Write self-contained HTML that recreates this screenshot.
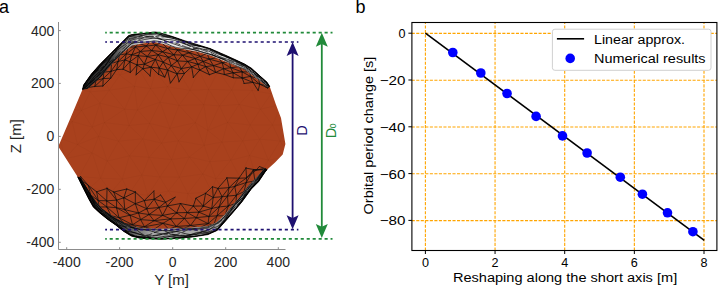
<!DOCTYPE html>
<html><head><meta charset="utf-8"><style>
html,body{margin:0;padding:0;background:#fff;width:718px;height:289px;overflow:hidden}
svg{display:block;font-family:"Liberation Sans",sans-serif}
</style></head><body>
<svg width="718" height="289" viewBox="0 0 718 289">
<rect width="718" height="289" fill="#fff"/>

<defs>
<clipPath id="ctop"><polygon points="82.5,89.5 83.6,85.0 91.5,73.8 100.5,63.7 111.7,52.5 123.0,41.2 128.6,35.6 131.9,34.6 142.1,33.5 155.4,32.0 160.3,32.9 172.4,36.5 184.5,40.7 196.6,44.4 210.0,48.5 227.3,56.0 244.6,64.0 251.5,68.3 260.1,76.1 267.0,82.2 269.7,86.5 275.0,100.0 80.0,100.0"/></clipPath>
<clipPath id="cbot"><polygon points="77.6,176.7 83.2,188.0 88.9,199.2 93.3,207.1 100.0,213.2 107.8,219.5 115.6,224.9 123.4,231.2 131.2,236.0 139.0,238.0 146.8,238.8 161.2,239.2 176.7,238.5 192.3,237.0 207.9,234.6 217.2,230.4 224.7,222.0 234.4,210.8 241.6,202.3 251.3,189.0 258.5,181.8 265.8,170.9 267.0,169.7 275.0,150.0 70.0,150.0"/></clipPath>
</defs>
<polygon points="58.3,146.4 70.5,118.0 82.5,89.5 83.6,85.0 91.5,73.8 100.5,63.7 111.7,52.5 123.0,41.2 128.6,35.6 131.9,34.6 142.1,33.5 155.4,32.0 160.3,32.9 172.4,36.5 184.5,40.7 196.6,44.4 210.0,48.5 227.3,56.0 244.6,64.0 251.5,68.3 260.1,76.1 267.0,82.2 269.7,86.5 275.8,104.2 281.0,118.0 285.4,144.0 282.7,154.4 275.0,162.4 267.0,169.7 265.8,170.9 258.5,181.8 251.3,189.0 241.6,202.3 234.4,210.8 224.7,222.0 217.2,230.4 207.9,234.6 192.3,237.0 176.7,238.5 161.2,239.2 146.8,238.8 139.0,238.0 131.2,236.0 123.4,231.2 115.6,224.9 107.8,219.5 100.0,213.2 93.3,207.1 88.9,199.2 83.2,188.0 77.6,176.7" fill="#a9411d"/>
<clipPath id="cbrown"><polygon points="58.3,146.4 70.5,118.0 82.5,89.5 83.6,85.0 91.5,73.8 100.5,63.7 111.7,52.5 123.0,41.2 128.6,35.6 131.9,34.6 142.1,33.5 155.4,32.0 160.3,32.9 172.4,36.5 184.5,40.7 196.6,44.4 210.0,48.5 227.3,56.0 244.6,64.0 251.5,68.3 260.1,76.1 267.0,82.2 269.7,86.5 275.8,104.2 281.0,118.0 285.4,144.0 282.7,154.4 275.0,162.4 267.0,169.7 265.8,170.9 258.5,181.8 251.3,189.0 241.6,202.3 234.4,210.8 224.7,222.0 217.2,230.4 207.9,234.6 192.3,237.0 176.7,238.5 161.2,239.2 146.8,238.8 139.0,238.0 131.2,236.0 123.4,231.2 115.6,224.9 107.8,219.5 100.0,213.2 93.3,207.1 88.9,199.2 83.2,188.0 77.6,176.7"/></clipPath>
<g clip-path="url(#cbrown)"><path d="M299.9 209.7L308.4 226.4M271.2 93.7L291.5 89.6M228.7 226.9L220.7 247.3M76.9 37.4L92.0 56.7M155.6 71.5L167.5 86.8M77.5 144.7L98.7 136.2M109.2 90.3L124.7 109.2M153.7 207.4L184.8 213.0M242.7 140.9L249.6 155.5M209.8 17.2L228.5 18.8M171.7 159.6L159.9 177.1M287.7 51.9L311.0 52.1M48.1 16.8L150.7 17.0M48.1 16.8L57.6 36.9M98.7 136.2L118.6 141.2M179.2 72.6L190.0 90.3M260.5 109.2L272.5 124.9M179.3 177.2L202.8 174.0M70.1 230.7L61.0 244.7M207.8 130.4L222.1 142.0M257.9 244.3L284.0 244.3M269.9 191.5L259.8 208.8M124.7 109.2L137.5 109.9M93.5 246.0L89.9 260.8M150.5 54.6L155.6 71.5M202.8 174.0L215.8 178.7M281.5 104.4L287.9 125.1M57.6 36.9L76.9 37.4M306.1 158.8L319.6 175.2M137.5 109.9L160.1 102.2M217.4 37.4L232.1 51.5M222.1 142.0L242.7 140.9M111.3 192.4L97.5 207.2M252.1 90.4L260.5 109.2M299.9 209.7L322.1 207.3M76.9 37.4L99.9 36.6M155.6 71.5L179.2 72.6M136.8 211.8L129.4 226.9M190.5 15.8L195.2 38.0M242.7 140.9L259.8 139.2M77.5 144.7L64.8 158.8M110.8 259.9L133.9 261.6M179.2 72.6L198.9 70.8M260.5 109.2L281.5 104.4M319.6 175.2L322.1 207.3M238.8 244.2L232.2 264.7M287.7 51.9L304.2 72.8M47.3 196.2L69.9 193.4M179.3 177.2L168.3 191.0M281.5 104.4L297.2 106.9M319.2 35.3L323.0 144.4M124.7 109.2L104.3 122.6M146.3 226.7L167.0 223.8M217.4 37.4L240.1 32.5M278.3 208.8L269.0 228.8M57.6 36.9L53.5 56.0M92.1 152.8L107.2 161.1M222.1 142.0L209.9 161.7M250.5 261.4L269.5 265.1M89.9 260.8L98.8 280.3M155.6 71.5L150.6 88.5M187.9 193.6L211.8 191.8M269.5 265.1L293.5 261.7M319.6 175.2L312.1 192.7M61.7 281.5L116.0 282.9M110.8 259.9L116.0 282.9M195.2 38.0L210.2 52.6M260.5 109.2L250.1 125.1M129.4 226.9L141.7 245.7M304.2 72.8L311.7 87.1M108.7 18.1L150.7 17.0M146.3 226.7L160.0 241.7M208.3 225.6L201.2 245.6M140.7 280.8L157.2 279.7M190.5 15.8L269.8 18.6M250.5 261.4L261.3 280.3M149.1 157.3L141.9 175.1M308.9 265.5L303.1 276.9M187.9 193.6L201.3 211.6M195.2 38.0L217.4 37.4M90.1 91.8L81.5 110.3M64.8 158.8L92.1 152.8M247.4 196.1L240.2 207.6M284.8 281.8L318.4 281.8M232.2 264.7L250.5 261.4M116.0 282.9L239.2 282.8M304.2 72.8L317.7 74.1M48.1 16.8L46.0 128.6M195.2 122.7L178.3 140.8M168.3 191.0L187.9 193.6M133.2 53.7L119.9 75.2M62.3 215.5L70.1 230.7M104.3 122.6L129.1 125.5M290.2 156.4L281.8 175.6M79.2 176.6L90.2 187.5M269.0 228.8L291.3 228.7M53.5 56.0L75.8 56.2M231.7 90.0L219.4 105.9M160.0 241.7L172.3 263.7M129.1 125.5L149.7 123.4M89.9 260.8L76.9 278.9M209.9 161.7L230.8 160.1M53.5 56.0L50.0 87.8M167.7 23.8L160.5 34.7M100.7 178.2L111.3 192.4M291.3 228.7L308.4 226.4M184.8 213.0L190.5 227.7M75.8 56.2L92.0 56.7M150.6 88.5L167.5 86.8M195.2 38.0L189.6 55.2M230.8 160.1L249.6 155.5M118.6 141.2L129.4 155.9M92.7 20.3L108.7 18.1M64.8 158.8L79.2 176.6M272.3 53.8L260.2 76.5M201.3 211.6L208.3 225.6M116.0 282.9L140.7 280.8M167.5 86.8L190.0 90.3M129.4 226.9L120.8 248.5M250.1 125.1L272.5 124.9M232.2 264.7L239.2 282.8M304.2 72.8L291.5 89.6M49.6 161.4L47.3 196.2M142.9 138.8L149.1 157.3M62.3 215.5L79.5 207.8M306.1 19.4L319.2 35.3M108.7 18.1L131.8 23.9M189.6 55.2L210.2 52.6M168.3 191.0L184.8 213.0M302.8 247.1L308.9 265.5M204.2 145.4L189.3 157.0M272.5 124.9L287.9 125.1M77.1 71.2L90.1 91.8M79.2 176.6L100.7 178.2M104.3 122.6L118.6 141.2M228.5 18.8L269.8 18.6M160.0 241.7L182.1 243.7M138.8 68.9L134.5 86.4M240.0 177.6L247.4 196.1M210.2 52.6L232.1 51.5M291.5 89.6L311.7 87.1M269.0 228.8L284.0 244.3M53.5 56.0L56.9 73.4M100.7 178.2L122.2 179.1M179.0 105.4L195.2 122.7M184.8 213.0L201.3 211.6M73.8 260.8L61.7 281.5M209.9 161.7L215.8 178.7M261.3 280.3L284.8 281.8M319.2 35.3L317.7 74.1M239.1 104.4L227.6 122.5M118.6 141.2L142.9 138.8M150.6 88.5L160.1 102.2M48.1 16.8L50.0 87.8M201.3 211.6L224.3 211.8M182.8 39.0L171.5 53.8M248.3 21.3L269.8 18.6M312.1 192.7L322.1 207.3M92.7 20.3L99.9 36.6M142.9 138.8L161.6 143.1M250.1 125.1L259.8 139.2M302.8 247.1L321.8 247.1M281.1 68.2L271.2 93.7M77.1 71.2L100.0 70.9M189.6 55.2L198.9 70.8M240.0 177.6L256.8 180.0M79.2 176.6L69.9 193.4M247.1 51.6L240.4 71.0M92.2 127.1L98.7 136.2M179.0 105.4L203.8 104.7M291.5 89.6L297.2 106.9M49.6 232.3L70.1 230.7M319.2 35.3L311.0 52.1M184.8 213.0L167.0 223.8M56.9 73.4L68.5 86.9M118.6 141.2L107.2 161.1M291.0 22.0L282.3 34.5M215.8 178.7L226.4 195.7M134.5 86.4L137.5 109.9M160.1 102.2L169.9 128.4M69.4 21.0L76.9 37.4M306.1 19.4L301.8 34.7M99.9 36.6L108.5 54.5M259.8 139.2L268.3 160.1M228.5 18.8L248.3 21.3M198.9 70.8L208.7 89.4M141.7 245.7L133.9 261.6M280.0 141.0L290.2 156.4M56.9 73.4L77.1 71.2M297.2 106.9L310.6 128.4M215.8 178.7L240.0 177.6M111.8 224.5L93.5 246.0M160.1 102.2L179.0 105.4M47.3 196.2L47.6 263.4M240.1 32.5L247.1 51.6M209.5 264.2L200.7 281.5M157.2 279.7L200.7 281.5M99.9 36.6L117.5 36.4M259.8 139.2L280.0 141.0M147.7 195.2L136.8 211.8M284.0 244.3L269.5 265.1M150.7 17.0L190.5 15.8M198.9 70.8L218.3 70.7M92.2 127.1L77.5 144.7M280.0 141.0L306.7 140.8M249.0 227.7L238.8 244.2M317.7 74.1L323.0 144.4M146.3 266.8L172.3 263.7M218.3 70.7L240.4 71.0M297.2 106.9L318.3 105.1M189.3 157.0L179.3 177.2M56.9 73.4L50.0 87.8M90.2 187.5L111.3 192.4M240.1 32.5L259.4 36.7M215.8 178.7L211.8 191.8M134.5 86.4L124.7 109.2M61.0 244.7L73.8 260.8M107.2 161.1L129.4 155.9M288.5 194.3L278.3 208.8M160.1 102.2L149.7 123.4M69.4 21.0L57.6 36.9M190.5 227.7L208.3 225.6M171.5 53.8L179.2 72.6M259.4 36.7L282.3 34.5M50.0 87.8L68.5 86.9M227.6 122.5L222.1 142.0M99.9 36.6L92.0 56.7M129.4 155.9L149.1 157.3M50.0 87.8L46.0 128.6M259.8 139.2L249.6 155.5M293.5 261.7L308.9 265.5M97.5 207.2L111.8 224.5M271.2 93.7L281.5 104.4M68.5 86.9L90.1 91.8M149.7 123.4L169.9 128.4M153.7 207.4L146.3 226.7M198.9 70.8L190.0 90.3M226.4 195.7L247.4 196.1M209.8 17.2L217.4 37.4M322.1 207.3L321.8 247.1M92.0 56.7L108.5 54.5M201.2 245.6L209.5 264.2M98.7 136.2L92.1 152.8M133.9 261.6L146.3 266.8M169.9 128.4L195.2 122.7M239.2 282.8L318.4 281.8M47.3 196.2L49.6 232.3M297.2 106.9L287.9 125.1M61.0 244.7L79.9 239.2M257.9 244.3L250.5 261.4M311.0 52.1L317.7 74.1M69.9 193.4L90.2 187.5M108.5 54.5L133.2 53.7M202.8 174.0L187.9 193.6M240.1 32.5L232.1 51.5M268.3 160.1L290.2 156.4M107.2 161.1L122.2 179.1M222.1 142.0L230.8 160.1M157.2 279.7L183.2 276.0M137.5 109.9L129.1 125.5M167.0 223.8L190.5 227.7M208.7 89.4L231.7 90.0M50.0 87.8L59.2 108.5M299.9 209.7L291.3 228.7M97.5 207.2L118.5 208.8M76.9 37.4L75.8 56.2M150.7 17.0L167.7 23.8M109.2 90.3L100.0 103.1M317.7 74.1L318.3 105.1M242.7 140.9L230.8 160.1M322.1 207.3L308.4 226.4M149.7 123.4L161.6 143.1M269.8 18.6L306.1 19.4M201.2 245.6L220.7 247.3M179.2 72.6L167.5 86.8M211.8 191.8L226.4 195.7M207.8 130.4L204.2 145.4M47.3 196.2L62.3 215.5M92.0 56.7L100.0 70.9M133.9 261.6L140.7 280.8M303.1 276.9L318.4 281.8M150.5 54.6L138.8 68.9M281.5 104.4L272.5 124.9M69.9 193.4L79.5 207.8M306.1 158.8L299.2 176.2M217.4 37.4L210.2 52.6M249.6 155.5L268.3 160.1M171.5 53.8L155.6 71.5M252.1 90.4L239.1 104.4M92.1 152.8L100.7 178.2M167.0 223.8L182.1 243.7M190.5 15.8L182.8 39.0M317.7 74.1L311.7 87.1M271.2 93.7L260.5 109.2M59.2 108.5L72.2 121.6M269.5 265.1L284.8 281.8M209.8 17.2L195.2 38.0M287.7 51.9L281.1 68.2M190.0 90.3L208.7 89.4M211.8 191.8L224.3 211.8M131.8 23.9L150.7 17.0M311.0 52.1L304.2 72.8M100.0 70.9L109.2 90.3M308.4 226.4L321.8 247.1M232.1 51.5L247.1 51.6M249.6 155.5L256.8 180.0M79.5 207.8L92.7 231.0M59.2 108.5L81.5 110.3M137.4 34.1L150.5 54.6M182.1 243.7L191.3 261.6M141.9 175.1L159.9 177.1M48.1 16.8L108.7 18.1M61.7 281.5L98.8 280.3M110.8 259.9L98.8 280.3M269.8 18.6L291.0 22.0M122.2 179.1L129.3 193.4M240.2 207.6L259.8 208.8M133.9 261.6L116.0 282.9M100.0 70.9L119.9 75.2M224.3 211.8L228.7 226.9M146.3 226.7L141.7 245.7M47.6 263.4L73.8 260.8M79.5 207.8L97.5 207.2M161.6 143.1L171.7 159.6M92.1 152.8L79.2 176.6M281.8 175.6L299.2 176.2M167.0 223.8L160.0 241.7M287.9 125.1L310.6 128.4M250.5 261.4L239.2 282.8M137.4 34.1L160.5 34.7M129.1 125.5L142.9 138.8M182.1 243.7L201.2 245.6M256.8 180.0L269.9 191.5M187.9 193.6L184.8 213.0M291.3 228.7L302.8 247.1M209.8 17.2L269.8 18.6M92.7 231.0L111.8 224.5M269.5 265.1L261.3 280.3M48.1 16.8L190.5 15.8M122.2 179.1L141.9 175.1M203.8 104.7L207.8 130.4M75.8 56.2L77.1 71.2M230.8 160.1L240.0 177.6M284.8 281.8L303.1 276.9M211.8 191.8L201.3 211.6M191.3 261.6L209.5 264.2M167.5 86.8L179.0 105.4M306.7 140.8L306.1 158.8M224.3 211.8L240.2 207.6M62.3 215.5L49.6 232.3M129.3 193.4L147.7 195.2M108.7 18.1L117.5 36.4M308.4 226.4L302.8 247.1M161.6 143.1L178.3 140.8M240.4 71.0L252.1 90.4M272.5 124.9L280.0 141.0M72.2 121.6L92.2 127.1M249.6 155.5L240.0 177.6M79.5 207.8L70.1 230.7M160.0 241.7L146.3 266.8M228.7 226.9L249.0 227.7M210.2 52.6L218.3 70.7M256.8 180.0L281.8 175.6M321.8 247.1L318.4 281.8M287.9 125.1L306.7 140.8M100.7 178.2L90.2 187.5M171.7 159.6L189.3 157.0M203.8 104.7L219.4 105.9M182.1 243.7L172.3 263.7M48.1 16.8L92.7 20.3M49.6 232.3L47.6 263.4M61.7 281.5L76.9 278.9M311.7 87.1L318.3 105.1M70.1 230.7L92.7 231.0M122.2 179.1L111.3 192.4M64.8 158.8L59.2 175.0M201.3 211.6L190.5 227.7M269.9 191.5L288.5 194.3M248.3 21.3L259.4 36.7M306.7 140.8L323.0 144.4M232.2 264.7L218.3 281.8M142.9 138.8L129.4 155.9M172.3 263.7L191.3 261.6M282.3 34.5L287.7 51.9M240.4 71.0L260.2 76.5M224.3 211.8L208.3 225.6M168.3 191.0L153.7 207.4M302.8 247.1L293.5 261.7M77.1 71.2L68.5 86.9M200.7 281.5L239.2 282.8M111.3 192.4L129.3 193.4M161.6 143.1L149.1 157.3M104.3 122.6L98.7 136.2M240.0 177.6L226.4 195.7M321.8 247.1L308.9 265.5M117.5 36.4L133.2 53.7M269.0 228.8L257.9 244.3M179.0 105.4L169.9 128.4M129.1 125.5L118.6 141.2M256.8 180.0L247.4 196.1M209.9 161.7L202.8 174.0M49.6 232.3L61.0 244.7M291.3 228.7L284.0 244.3M218.3 70.7L231.7 90.0M75.8 56.2L56.9 73.4M203.8 104.7L195.2 122.7M150.6 88.5L137.5 109.9M230.8 160.1L215.8 178.7M70.1 230.7L79.9 239.2M312.1 192.7L299.9 209.7M116.0 282.9L200.7 281.5M92.7 20.3L76.9 37.4M282.3 34.5L301.8 34.7M167.5 86.8L160.1 102.2M306.7 140.8L290.2 156.4M250.1 125.1L242.7 140.9M259.4 36.7L272.3 53.8M172.3 263.7L183.2 276.0M108.7 18.1L99.9 36.6M240.4 71.0L231.7 90.0M189.6 55.2L179.2 72.6M272.5 124.9L259.8 139.2M117.5 36.4L137.4 34.1M111.3 192.4L118.5 208.8M228.5 18.8L240.1 32.5M210.2 52.6L198.9 70.8M291.5 89.6L281.5 104.4M311.7 87.1L297.2 106.9M248.3 21.3L240.1 32.5M318.3 105.1L323.0 144.4M79.9 239.2L89.9 260.8M46.0 128.6L72.2 121.6M200.7 281.5L218.3 281.8M208.3 225.6L228.7 226.9M117.5 36.4L108.5 54.5M149.1 157.3L171.7 159.6M280.0 141.0L268.3 160.1M118.5 208.8L129.4 226.9M90.1 91.8L109.2 90.3M146.3 266.8L157.2 279.7M238.8 244.2L257.9 244.3M218.3 70.7L208.7 89.4M247.4 196.1L269.9 191.5M60.0 138.0L64.8 158.8M90.2 187.5L97.5 207.2M220.7 247.3L232.2 264.7M195.2 122.7L207.8 130.4M318.3 105.1L310.6 128.4M79.9 239.2L93.5 246.0M159.9 177.1L168.3 191.0M133.2 53.7L150.5 54.6M190.5 227.7L201.2 245.6M278.3 208.8L299.9 209.7M323.0 144.4L321.8 247.1M172.3 263.7L157.2 279.7M290.2 156.4L306.1 158.8M259.4 36.7L247.1 51.6M100.0 103.1L104.3 122.6M46.0 128.6L60.0 138.0M129.4 155.9L141.9 175.1M183.2 276.0L200.7 281.5M259.8 208.8L269.0 228.8M231.7 90.0L252.1 90.4M208.3 225.6L220.7 247.3M293.5 261.7L303.1 276.9M89.9 260.8L110.8 259.9M228.5 18.8L217.4 37.4M68.5 86.9L81.5 110.3M118.5 208.8L136.8 211.8M167.7 23.8L190.5 15.8M149.1 157.3L159.9 177.1M226.4 195.7L240.2 207.6M60.0 138.0L77.5 144.7M308.9 265.5L318.4 281.8M90.1 91.8L100.0 103.1M169.9 128.4L178.3 140.8M220.7 247.3L238.8 244.2M272.3 53.8L287.7 51.9M247.4 196.1L259.8 208.8M61.0 244.7L47.6 263.4M129.4 226.9L146.3 226.7M108.5 54.5L119.9 75.2M159.9 177.1L179.3 177.2M195.2 122.7L204.2 145.4M268.3 160.1L281.8 175.6M100.0 103.1L124.7 109.2M79.9 239.2L73.8 260.8M133.2 53.7L138.8 68.9M208.7 89.4L219.4 105.9M259.8 208.8L278.3 208.8M290.2 156.4L299.2 176.2M97.5 207.2L92.7 231.0M150.7 17.0L160.5 34.7M231.7 90.0L239.1 104.4M310.6 128.4L323.0 144.4M73.8 260.8L89.9 260.8M141.9 175.1L147.7 195.2M118.5 208.8L111.8 224.5M201.2 245.6L191.3 261.6M167.7 23.8L182.8 39.0M46.0 128.6L47.6 263.4M146.3 266.8L140.7 280.8M81.5 110.3L92.2 127.1M60.0 138.0L49.6 161.4M240.2 207.6L249.0 227.7M90.2 187.5L79.5 207.8M220.7 247.3L209.5 264.2M272.3 53.8L281.1 68.2M178.3 140.8L189.3 157.0M323.0 144.4L322.1 207.3M159.9 177.1L147.7 195.2M107.2 161.1L100.7 178.2M190.5 227.7L182.1 243.7M119.9 75.2L134.5 86.4M100.0 103.1L92.2 127.1M204.2 145.4L209.9 161.7M281.8 175.6L288.5 194.3M129.4 155.9L122.2 179.1M247.1 51.6L272.3 53.8M259.8 208.8L249.0 227.7M138.8 68.9L150.6 88.5M293.5 261.7L284.8 281.8M219.4 105.9L227.6 122.5M68.5 86.9L59.2 108.5M149.7 123.4L142.9 138.8M299.2 176.2L312.1 192.7M226.4 195.7L224.3 211.8M73.8 260.8L76.9 278.9M160.5 34.7L171.5 53.8M81.5 110.3L100.0 103.1M92.0 56.7L77.1 71.2M239.1 104.4L250.1 125.1M190.0 90.3L203.8 104.7M169.9 128.4L161.6 143.1M291.0 22.0L306.1 19.4M182.8 39.0L189.6 55.2M131.8 23.9L137.4 34.1M178.3 140.8L204.2 145.4M260.2 76.5L271.2 93.7M69.9 193.4L62.3 215.5M108.5 54.5L100.0 70.9M268.3 160.1L256.8 180.0M119.9 75.2L138.8 68.9M204.2 145.4L222.1 142.0M232.1 51.5L240.4 71.0M281.1 68.2L291.5 89.6M208.7 89.4L203.8 104.7M138.8 68.9L155.6 71.5M301.8 34.7L311.0 52.1M219.4 105.9L239.1 104.4M150.7 17.0L137.4 34.1M247.1 51.6L260.2 76.5M299.2 176.2L319.6 175.2M59.2 108.5L46.0 128.6M310.6 128.4L306.7 140.8M160.5 34.7L182.8 39.0M141.9 175.1L129.3 193.4M239.1 104.4L260.5 109.2M269.8 18.6L282.3 34.5M81.5 110.3L72.2 121.6M111.8 224.5L129.4 226.9M239.2 282.8L284.8 281.8M182.8 39.0L195.2 38.0M260.2 76.5L281.1 68.2M323.0 144.4L319.6 175.2M240.2 207.6L228.7 226.9M291.0 22.0L301.8 34.7M49.6 161.4L64.8 158.8M100.0 70.9L90.1 91.8M178.3 140.8L171.7 159.6M209.5 264.2L232.2 264.7M281.1 68.2L304.2 72.8M47.6 263.4L61.7 281.5M119.9 75.2L109.2 90.3M147.7 195.2L168.3 191.0M301.8 34.7L319.2 35.3M281.8 175.6L269.9 191.5M120.8 248.5L133.9 261.6M92.2 127.1L104.3 122.6M137.4 34.1L133.2 53.7M219.4 105.9L207.8 130.4M249.0 227.7L269.0 228.8M59.2 175.0L69.9 193.4M299.2 176.2L288.5 194.3M141.7 245.7L146.3 266.8M92.7 231.0L93.5 246.0M160.5 34.7L150.5 54.6M189.3 157.0L209.9 161.7M190.0 90.3L179.0 105.4M323.0 144.4L306.1 158.8M76.9 278.9L98.8 280.3M134.5 86.4L150.6 88.5M111.8 224.5L120.8 248.5M191.3 261.6L200.7 281.5M131.8 23.9L117.5 36.4M260.2 76.5L252.1 90.4M288.5 194.3L312.1 192.7M69.4 21.0L92.7 20.3M49.6 161.4L59.2 175.0M98.8 280.3L116.0 282.9M129.3 193.4L136.8 211.8M227.6 122.5L250.1 125.1M209.5 264.2L218.3 281.8M232.1 51.5L218.3 70.7M72.2 121.6L77.5 144.7M120.8 248.5L141.7 245.7M147.7 195.2L153.7 207.4M46.0 128.6L47.3 196.2M284.0 244.3L293.5 261.7M228.7 226.9L238.8 244.2M301.8 34.7L287.7 51.9M59.2 175.0L79.2 176.6M141.7 245.7L160.0 241.7M171.7 159.6L179.3 177.2M218.3 281.8L239.2 282.8M249.0 227.7L257.9 244.3M269.8 18.6L259.4 36.7M189.3 157.0L202.8 174.0M239.2 282.8L261.3 280.3M269.9 191.5L278.3 208.8M93.5 246.0L110.8 259.9M288.5 194.3L299.9 209.7M140.7 280.8L200.7 281.5M227.6 122.5L242.7 140.9M284.0 244.3L302.8 247.1M190.5 15.8L306.1 19.4M136.8 211.8L146.3 226.7M120.8 248.5L110.8 259.9M109.2 90.3L134.5 86.4M287.9 125.1L280.0 141.0M77.5 144.7L92.1 152.8M48.1 16.8L69.4 21.0M59.2 175.0L47.3 196.2M153.7 207.4L167.0 223.8M238.8 244.2L250.5 261.4M92.7 231.0L79.9 239.2M207.8 130.4L227.6 122.5M48.1 16.8L53.5 56.0M98.7 136.2L107.2 161.1M179.3 177.2L187.9 193.6M93.5 246.0L120.8 248.5M150.5 54.6L171.5 53.8M257.9 244.3L269.5 265.1M191.3 261.6L183.2 276.0M282.3 34.5L272.3 53.8M124.7 109.2L129.1 125.5M202.8 174.0L211.8 191.8M278.3 208.8L291.3 228.7M171.5 53.8L189.6 55.2M129.3 193.4L118.5 208.8M252.1 90.4L271.2 93.7M57.6 36.9L75.8 56.2M46.0 128.6L49.6 161.4M137.5 109.9L149.7 123.4M136.8 211.8L153.7 207.4M72.2 121.6L60.0 138.0M190.5 15.8L209.8 17.2" stroke="#000" stroke-width="1" stroke-opacity="0.025" fill="none"/></g>
<g clip-path="url(#ctop)"><path d="M163.2 62.0L159.0 68.3M173.8 54.6L177.6 61.2M258.4 78.3L259.7 84.2M119.2 55.2L128.5 46.7M253.3 82.4L243.5 83.5M144.1 64.1L151.3 67.3M128.2 46.7L126.2 54.1M162.7 51.6L158.1 54.8M195.7 58.3L187.1 61.7M150.8 66.9L158.7 74.5M194.3 49.7L207.1 53.4M135.4 46.9L140.6 51.7M140.1 51.3L147.5 56.6M204.9 66.1L215.8 72.5M223.6 68.4L224.4 74.6M155.6 45.1L162.7 51.8M209.8 58.9L202.8 61.6M242.8 71.8L233.0 72.8M213.4 65.2L215.7 72.7M138.3 55.5L137.0 65.5M181.2 68.5L184.6 73.7M129.7 61.7L137.3 65.1M221.8 62.5L230.9 67.8M144.1 64.3L155.7 59.3M95.8 80.7L104.3 71.6M229.6 61.4L221.9 62.8M150.6 67.2L159.3 68.1M182.4 55.2L177.3 61.0M270.3 85.8L267.7 88.2M102.9 78.6L110.8 78.2M217.3 57.2L229.7 61.7M111.6 62.9L110.9 71.9M134.7 47.1L146.7 46.0M171.4 65.5L167.3 70.4M200.4 56.3L194.8 58.7M155.3 45.0L167.9 48.6M180.9 68.7L192.4 66.7M172.9 45.8L177.5 50.1M233.0 72.5L233.2 77.9M158.1 54.6L163.5 62.7M167.7 48.4L162.3 51.9M140.5 51.1L138.1 56.0M174.2 54.6L168.2 57.5M167.9 57.1L177.7 60.9M222.6 62.6L213.0 65.8M217.6 57.1L222.5 63.1M102.4 86.5L110.8 78.2M117.9 61.5L125.2 59.9M181.6 68.2L176.9 74.0M151.4 50.5L162.6 51.7M242.1 77.8L244.3 83.8M250.5 76.4L259.8 84.3M202.9 61.3L214.0 65.8M163.0 61.9L167.9 70.6M230.6 67.7L242.7 72.1M129.9 73.0L137.6 64.4M188.1 61.0L181.3 68.7M126.4 53.4L124.9 60.3M207.1 53.2L200.3 56.4M131.7 54.9L140.9 51.3M147.2 56.5L158.5 54.7M158.0 54.7L169.1 57.5M177.6 49.9L173.9 54.8M127.9 47.1L135.7 47.0M150.1 41.2L155.7 45.2M184.4 48.2L189.6 53.0M162.1 51.3L168.8 57.7M228.9 61.3L239.7 66.9M159.2 67.8L158.5 74.8M168.5 57.3L162.9 62.3M117.7 61.8L126.6 53.6M167.2 69.9L177.4 74.0M119.3 54.9L126.7 53.8M203.1 61.3L205.8 66.8M155.6 59.0L151.1 67.3M94.5 86.7L103.8 78.0M131.3 54.8L138.8 55.8M197.8 64.1L199.8 70.4M136.6 64.7L143.3 69.0M137.9 55.3L144.7 64.6M160.9 42.4L173.4 46.0M259.8 83.8L258.1 90.9M213.7 65.6L205.6 66.6M151.9 50.1L147.0 56.9M177.3 60.9L188.3 61.5M173.0 45.8L167.3 48.6M189.3 52.6L195.2 58.6M184.5 48.4L195.1 49.9M147.3 56.5L144.3 64.2M270.3 85.8L265.3 86.9M138.9 43.1L135.4 47.0M111.3 63.3L118.4 61.4M194.8 58.4L203.3 61.5M223.3 68.5L233.7 73.1M161.8 42.5L155.4 45.2M195.4 49.7L189.3 52.8M118.2 61.0L116.6 69.9M95.6 80.5L103.4 78.5M249.6 71.7L250.6 76.6M136.6 65.0L144.9 64.1M185.0 48.3L176.9 50.1M208.5 58.9L223.1 62.9M252.6 81.8L258.3 90.8M137.6 55.7L147.5 56.5M242.5 78.0L233.1 77.8M259.1 83.9L268.0 88.2M116.2 70.1L125.1 59.8M146.4 45.9L151.8 50.7M229.2 61.4L230.8 67.7M161.9 51.5L174.8 55.0M144.4 64.1L142.8 68.8M189.1 52.7L200.4 56.4M102.8 79.0L111.2 71.1M176.7 73.8L185.0 73.4M191.5 66.1L193.5 78.0M103.9 71.7L103.2 78.9M167.5 69.5L170.4 83.2M111.6 63.3L119.9 54.5M137.1 64.3L136.1 75.1M150.4 41.4L146.4 46.1M249.1 71.5L258.5 78.5M177.4 60.7L181.4 68.8M205.5 66.2L209.6 75.1M200.1 56.3L209.7 59.2M142.5 68.8L151.5 67.2M119.6 54.6L118.0 61.9M215.5 72.4L224.8 74.6M187.6 61.4L191.8 67.0M206.8 53.0L209.5 59.5M167.4 48.3L174.1 54.9M177.4 73.4L170.2 83.5M177.4 50.0L182.6 55.4M181.6 55.0L196.0 58.8M110.9 70.8L110.8 78.4M259.8 84.2L252.9 82.4M191.3 66.7L200.2 70.3M184.6 73.3L178.7 82.2M158.9 67.6L164.9 77.4M239.7 66.6L230.2 67.8M103.2 78.0L102.9 86.0M242.2 71.5L242.1 78.3M171.1 65.5L181.6 68.6M129.2 62.2L138.5 55.6M230.9 67.7L223.3 68.7M126.2 53.8L132.0 54.9M206.6 53.2L218.4 57.6M96.2 80.1L94.6 86.8M249.9 71.9L241.6 71.9M139.6 51.5L152.4 50.5M126.0 54.1L136.0 46.6M173.6 54.7L182.6 55.2M257.9 78.1L268.5 86.5M124.6 59.8L130.0 61.8M187.5 61.4L198.5 64.3M216.0 72.3L209.0 74.8M159.1 68.1L168.2 70.2M122.8 69.1L130.5 72.6M151.2 67.0L150.0 76.4M168.2 56.7L171.3 65.6M205.9 66.5L199.3 70.3M217.9 57.5L209.2 59.1M155.3 59.5L163.7 62.3M161.4 42.4L167.7 48.6M241.6 71.6L250.8 76.6M192.0 66.4L184.3 73.6M199.5 69.9L209.7 74.8M167.6 70.0L164.8 77.3M259.0 78.6L250.0 76.3M197.5 64.1L206.1 66.7M223.8 74.3L233.5 77.9M135.7 75.1L143.3 68.3M129.9 61.7L130.3 72.6M222.1 62.3L223.8 69.0M250.5 76.4L253.2 82.8M268.3 86.1L259.5 84.1M177.6 60.7L171.3 65.6M158.4 74.2L164.9 77.3M122.8 69.6L130.2 61.4M110.5 78.6L116.7 69.5M135.7 46.6L131.6 55.4M199.8 70.0L193.1 77.6M138.2 43.1L146.6 46.1M232.4 72.4L242.8 78.3M155.8 44.8L151.3 50.9M203.3 61.4L197.6 64.3M194.9 58.1L197.8 64.2M212.9 65.4L223.9 68.7M167.0 48.4L178.0 50.1M124.5 60.3L132.0 54.7M94.4 86.5L103.5 85.9M87.2 87.7L96.2 80.3M145.8 46.1L156.3 45.0M131.8 54.8L129.7 62.3M198.0 64.1L191.2 67.0M172.1 45.6L184.7 48.4M267.8 86.0L267.8 88.2M176.9 73.2L179.2 82.2M110.8 71.4L117.1 69.5M125.0 59.7L123.0 69.5M189.5 52.7L181.9 55.4M155.1 58.9L159.3 68.4M103.7 72.2L111.5 71.3M116.5 69.6L123.2 69.2M138.4 43.4L151.0 41.3M239.1 66.3L242.2 71.9M149.5 41.3L162.2 42.6M250.6 76.4L241.6 78.0M142.3 68.2L150.5 76.2M151.6 50.5L158.5 54.9M86.9 87.7L95.2 86.4M230.7 67.5L233.0 72.9M233.7 72.7L223.8 74.7M158.3 54.5L155.3 59.5M241.4 77.6L253.6 82.7M146.6 56.3L155.3 59.5M267.8 88.2L265.6 86.8M163.0 62.1L171.8 65.8M177.1 49.9L189.5 52.8M267.8 86.0L270.4 85.8M209.1 58.7L213.6 65.7M146.9 45.7L140.3 51.5M110.5 71.9L118.5 60.9M103.8 72.1L111.9 62.9M127.5 47.4L139.4 43.1M194.7 49.5L200.7 56.8M200.1 56.0L203.4 61.8M171.1 65.3L177.1 73.8M239.1 66.6L249.8 72.0M182.4 55.2L187.7 61.5M224.0 68.5L215.5 72.5" stroke="#111" stroke-width="0.8" fill="none"/></g>
<g clip-path="url(#cbot)"><path d="M196.2 218.0L198.9 212.0M123.6 223.2L138.5 228.5M158.4 207.9L165.7 202.1M138.2 228.3L132.2 224.5M184.5 218.5L176.0 212.4M219.4 206.8L211.3 208.5M96.6 191.8L107.6 188.3M224.2 216.6L236.1 203.2M144.0 227.0L154.2 220.6M153.8 220.8L162.9 215.3M228.6 188.1L239.0 178.1M246.6 178.0L245.9 167.5M175.7 226.9L184.8 218.2M236.6 195.2L227.0 196.2M265.7 168.7L256.1 170.0M203.1 206.9L205.6 193.1M149.3 214.9L146.5 208.4M138.2 213.2L147.1 208.4M245.9 183.2L253.8 169.3M158.2 207.6L167.7 205.9M90.6 194.9L99.6 207.8M255.0 180.8L246.2 182.5M164.9 202.6L175.7 196.8M116.1 199.5L125.1 210.0M209.3 216.6L198.0 211.8M97.8 200.5L107.1 200.8M244.0 191.7L255.1 180.7M111.1 215.8L106.4 206.2M144.1 226.8L163.2 223.3M228.6 206.0L219.0 206.9M175.5 226.5L191.5 225.4M202.6 206.6L213.4 197.3M198.6 228.3L208.4 223.4M176.4 213.2L180.6 203.3M190.9 226.0L184.3 218.3M154.3 221.0L148.9 214.2M196.8 217.9L187.1 212.5M186.7 212.6L199.8 212.1M246.9 182.3L234.6 186.4M244.0 191.7L246.4 182.2M96.0 191.3L106.7 200.8M119.1 217.7L130.6 215.1M126.0 188.8L135.7 192.2M203.6 206.4L195.8 198.0M170.2 218.9L185.0 218.5M227.3 196.3L235.1 186.0M116.5 200.2L124.4 197.6M252.7 170.2L265.4 168.7M135.1 203.6L147.4 209.0M212.0 208.5L203.1 206.0M132.5 224.7L129.9 214.7M236.3 203.2L227.6 206.2M140.4 219.6L154.9 220.7M161.7 215.6L177.5 212.6M175.9 212.8L187.6 212.5M208.1 223.6L195.7 217.4M138.1 228.3L144.5 226.7M168.5 229.4L176.2 226.4M213.5 225.4L217.3 215.2M184.4 218.6L187.4 212.2M254.1 181.7L265.0 169.6M106.7 201.2L107.1 187.7M118.3 217.3L132.8 224.9M187.7 213.1L180.3 203.3M124.3 223.5L132.8 224.7M227.4 196.5L229.2 187.1M167.6 206.1L165.5 202.2M143.9 201.0L154.2 190.6M87.7 184.5L98.3 200.6M140.1 219.8L149.7 214.2M222.1 196.8L217.9 188.4M146.1 209.3L154.7 198.5M149.0 214.6L159.6 207.0M154.1 199.5L153.9 190.6M183.2 228.5L199.6 228.0M235.2 186.3L228.8 187.7M171.1 219.1L162.2 215.2M197.9 212.4L212.3 208.3M199.5 228.1L190.1 225.3M217.1 215.8L219.3 206.3M124.8 209.8L123.7 196.9M213.6 225.1L225.5 215.4M162.9 215.9L158.7 207.2M153.6 229.7L143.9 226.6M110.9 215.7L119.3 217.8M218.7 207.4L228.1 195.3M246.5 177.9L256.7 169.7M123.7 198.3L126.7 188.9M184.3 228.6L175.8 226.3M224.9 215.9L217.0 215.8M119.1 217.8L116.4 207.3M80.1 176.0L88.4 185.5M90.6 195.0L98.4 200.6M146.1 208.7L159.3 207.5M213.8 225.1L208.0 223.5M235.8 196.1L246.7 182.0M148.2 214.5L162.7 215.4M116.0 207.4L130.4 215.5M162.5 223.6L170.9 218.6M255.0 181.3L253.3 170.0M116.8 200.6L113.6 191.5M183.7 218.5L197.2 217.6M159.1 207.9L154.0 199.0M216.9 216.0L228.9 205.4M97.7 200.1L107.2 207.2M195.3 198.5L205.9 193.2M213.3 198.2L212.4 186.2M99.0 207.1L98.2 200.2M110.4 215.4L124.7 223.6M146.8 209.3L144.2 200.0M168.8 229.3L162.9 223.2M198.8 212.1L203.6 205.6M229.1 187.8L226.8 177.3M227.8 206.5L236.5 195.2M153.9 199.2L165.7 202.3M124.8 223.9L119.0 217.6M238.8 178.3L246.5 167.4M211.7 208.9L213.2 197.5M235.9 204.0L236.5 194.8M190.3 225.7L196.4 217.6M208.0 224.0L209.0 216.4M208.3 217.2L219.8 206.3M106.8 207.2L106.7 200.5M106.6 188.2L114.1 192.2M212.9 198.1L217.9 188.3M116.5 208.1L116.6 199.7M265.1 169.7L253.2 170.1M98.4 201.1L96.5 191.2M265.4 168.8L259.1 166.4M135.2 203.7L144.5 200.5M192.6 206.1L203.8 206.0M138.0 212.9L149.4 214.6M81.9 181.0L80.6 176.4M253.5 169.9L246.3 178.2M113.6 192.1L127.3 188.9M132.4 224.8L140.9 219.4M235.4 204.1L244.4 191.1M90.8 195.6L88.3 185.3M268.2 170.2L265.2 168.7M152.8 220.8L171.7 218.7M131.6 224.5L145.0 226.8M195.5 217.7L209.1 216.4M130.0 215.3L139.1 212.8M211.2 209.0L222.8 195.9M234.7 186.6L239.1 177.9M239.7 178.2L226.3 177.9M124.0 210.0L135.6 203.5M165.8 202.7L160.4 194.5M105.9 200.9L116.9 200.1M186.8 213.0L193.5 205.9M244.3 191.5L235.8 195.5M229.7 187.6L217.4 188.5M123.5 198.0L135.8 191.8M167.0 206.0L181.2 203.4M183.5 228.6L190.6 225.4M213.4 197.6L204.9 193.0M217.4 188.9L227.1 177.8M221.9 197.0L229.5 187.2M144.2 200.6L154.8 199.1M138.7 213.4L135.1 203.2M113.3 191.8L123.9 197.9M246.3 182.8L246.6 177.5M198.9 212.2L193.1 205.8M205.2 193.6L212.6 186.6M124.3 209.5L138.9 213.0M106.2 200.5L116.9 207.9M144.5 226.8L140.5 219.4M217.9 188.4L212.2 186.7M153.2 229.9L163.3 223.1M123.3 197.5L135.9 204.0M256.3 170.0L259.3 166.5M176.6 227.0L170.4 218.7M227.6 196.1L221.8 196.8M219.0 207.6L222.1 196.6M234.4 186.7L247.4 177.3M190.3 225.5L208.4 223.5M129.5 215.0L141.3 219.9M88.2 185.3L96.9 192.0M135.3 204.2L135.4 191.5M81.4 180.1L91.4 196.2M161.9 223.1L176.4 226.5M140.6 219.7L138.5 212.8M222.1 196.7L213.1 197.5M198.6 228.1L214.8 224.9M106.5 206.9L116.7 207.7M130.3 215.5L124.6 209.5M217.1 215.8L209.0 216.4M167.0 206.5L175.1 197.1M98.6 207.0L107.0 206.9M116.0 207.5L125.1 209.7M153.3 229.6L169.0 229.3M264.9 169.7L265.3 168.7M168.5 229.3L184.1 228.4M134.9 191.6L144.8 200.9M154.1 199.2L161.0 194.8M170.0 219.3L177.0 212.3M81.6 180.6L88.4 185.4M253.3 170.1L256.4 169.9M256.5 170.0L245.2 168.0M177.2 213.3L167.2 205.7M162.4 215.8L167.8 205.4M179.8 203.4L194.1 206.2M207.6 224.0L217.5 215.5M236.4 195.4L234.7 185.9M106.6 187.8L116.7 200.3M163.1 223.4L153.6 220.5M106.4 206.6L119.9 218.4M98.8 206.8L111.7 216.3M137.4 228.2L153.7 229.6M224.8 216.1L228.3 205.8M228.2 206.3L227.5 196.0M193.3 206.2L196.1 197.8M264.9 169.7L268.2 170.1M208.9 216.7L211.8 208.1M246.7 177.9L238.4 178.3" stroke="#111" stroke-width="0.75" fill="none"/><path d="" stroke="#111" stroke-width="0.6" fill="none" opacity="0.6"/></g>
<defs><clipPath id="btop"><polygon points="82.5,89.5 83.6,85.0 91.5,73.8 100.5,63.7 111.7,52.5 123.0,41.2 128.6,35.6 131.9,34.6 142.1,33.5 155.4,32.0 160.3,32.9 172.4,36.5 184.5,40.7 196.6,44.4 210.0,48.5 227.3,56.0 244.6,64.0 251.5,68.3 260.1,76.1 267.0,82.2 269.7,86.5 269.7,86.5 267.0,86.5 260.1,81.3 244.6,69.2 227.3,62.3 210.0,55.3 196.6,51.6 184.5,49.2 172.4,46.8 162.7,43.8 154.2,42.0 142.1,43.5 132.0,45.5 122.5,53.0 112.5,63.5 101.0,77.0 87.5,89.0 82.5,89.5"/></clipPath><clipPath id="bbot"><polygon points="77.6,176.7 83.2,188.0 88.9,199.2 93.3,207.1 100.0,213.2 107.8,219.5 115.6,224.9 123.4,231.2 131.2,236.0 139.0,238.0 146.8,238.8 161.2,239.2 176.7,238.5 192.3,237.0 207.9,234.6 217.2,230.4 224.7,222.0 234.4,210.8 241.6,202.3 251.3,189.0 258.5,181.8 265.8,170.9 267.0,169.7 267.0,169.7 264.0,168.5 256.5,177.5 249.0,185.0 239.5,197.5 232.0,206.0 224.5,215.0 216.5,222.5 207.9,226.3 192.3,227.4 176.7,228.2 161.2,228.8 146.8,228.6 139.0,227.8 131.2,226.0 124.0,222.5 116.5,218.5 109.0,213.5 102.0,208.5 97.0,202.5 92.0,196.0 80.5,177.5 77.6,176.7"/></clipPath></defs><defs><linearGradient id="gtop" gradientUnits="userSpaceOnUse" x1="80" y1="0" x2="272" y2="0">
<stop offset="0" stop-color="#222"/><stop offset="0.15" stop-color="#333"/><stop offset="0.22" stop-color="#777"/><stop offset="0.3" stop-color="#c8c8c8"/>
<stop offset="0.42" stop-color="#e8e8e8"/><stop offset="0.7" stop-color="#e0e0e0"/><stop offset="1" stop-color="#aaa"/></linearGradient>
<linearGradient id="gbot" gradientUnits="userSpaceOnUse" x1="76" y1="0" x2="268" y2="0">
<stop offset="0" stop-color="#1a1a1a"/><stop offset="0.25" stop-color="#444"/><stop offset="0.4" stop-color="#a8a8a8"/>
<stop offset="0.75" stop-color="#a8a8a8"/><stop offset="0.85" stop-color="#777"/><stop offset="1" stop-color="#555"/></linearGradient></defs><polygon points="82.5,89.5 83.6,85.0 91.5,73.8 100.5,63.7 111.7,52.5 123.0,41.2 128.6,35.6 131.9,34.6 142.1,33.5 155.4,32.0 160.3,32.9 172.4,36.5 184.5,40.7 196.6,44.4 210.0,48.5 227.3,56.0 244.6,64.0 251.5,68.3 260.1,76.1 267.0,82.2 269.7,86.5 269.7,86.5 267.0,86.5 260.1,81.3 244.6,69.2 227.3,62.3 210.0,55.3 196.6,51.6 184.5,49.2 172.4,46.8 162.7,43.8 154.2,42.0 142.1,43.5 132.0,45.5 122.5,53.0 112.5,63.5 101.0,77.0 87.5,89.0 82.5,89.5" fill="url(#gtop)"/><polygon points="77.6,176.7 83.2,188.0 88.9,199.2 93.3,207.1 100.0,213.2 107.8,219.5 115.6,224.9 123.4,231.2 131.2,236.0 139.0,238.0 146.8,238.8 161.2,239.2 176.7,238.5 192.3,237.0 207.9,234.6 217.2,230.4 224.7,222.0 234.4,210.8 241.6,202.3 251.3,189.0 258.5,181.8 265.8,170.9 267.0,169.7 267.0,169.7 264.0,168.5 256.5,177.5 249.0,185.0 239.5,197.5 232.0,206.0 224.5,215.0 216.5,222.5 207.9,226.3 192.3,227.4 176.7,228.2 161.2,228.8 146.8,228.6 139.0,227.8 131.2,226.0 124.0,222.5 116.5,218.5 109.0,213.5 102.0,208.5 97.0,202.5 92.0,196.0 80.5,177.5 77.6,176.7" fill="url(#gbot)"/><g clip-path="url(#btop)"><polyline points="82.5,89.5 82.8,88.4 83.0,87.3 83.3,86.2 83.6,85.1 84.2,84.1 84.9,83.2 85.5,82.2 86.2,81.3 86.9,80.4 87.5,79.4 88.2,78.5 88.8,77.6 89.5,76.6 90.2,75.7 90.8,74.8 91.5,73.8 92.2,73.0 93.0,72.1 93.8,71.3 94.5,70.4 95.3,69.5 96.0,68.7 96.8,67.8 97.6,67.0 98.3,66.1 99.1,65.3 99.9,64.4 100.6,63.6 101.4,62.8 102.2,62.0 103.1,61.1 103.9,60.3 104.7,59.5 105.5,58.7 106.3,57.9 107.1,57.1 107.9,56.3 108.7,55.5 109.5,54.7 110.3,53.9 111.1,53.1 112.0,52.2 112.8,51.4 113.6,50.6 114.4,49.8 115.2,49.0 116.0,48.2 116.8,47.4 117.6,46.6 118.4,45.8 119.2,45.0 120.0,44.2 120.9,43.3 121.7,42.5 122.5,41.7 123.3,40.9 124.1,40.1 124.9,39.3 125.7,38.5 126.5,37.7 127.3,36.9 128.1,36.1 129.1,35.5 130.2,35.1 131.3,34.8 132.4,34.5 133.5,34.4 134.6,34.3 135.8,34.2 136.9,34.1 138.1,33.9 139.2,33.8 140.3,33.7 141.5,33.6 142.6,33.4 143.7,33.3 144.9,33.2 146.0,33.1 147.2,32.9 148.3,32.8 149.4,32.7 150.6,32.5 151.7,32.4 152.8,32.3 154.0,32.2 155.1,32.0 156.2,32.2 157.4,32.4 158.5,32.6 159.6,32.8 160.7,33.0 161.8,33.4 162.9,33.7 164.0,34.0 165.1,34.3 166.2,34.7 167.3,35.0 168.4,35.3 169.5,35.6 170.6,36.0 171.7,36.3 172.8,36.6 173.9,37.0 175.0,37.4 176.0,37.8 177.1,38.1 178.2,38.5 179.3,38.9 180.4,39.3 181.4,39.6 182.5,40.0 183.6,40.4 184.7,40.8 185.8,41.1 186.9,41.4 188.0,41.8 189.1,42.1 190.2,42.4 191.3,42.8 192.3,43.1 193.4,43.4 194.5,43.8 195.6,44.1 196.7,44.4 197.8,44.8 198.9,45.1 200.0,45.4 201.1,45.8 202.2,46.1 203.3,46.4 204.4,46.8 205.5,47.1 206.6,47.5 207.7,47.8 208.8,48.1 209.9,48.5 210.9,48.9 212.0,49.4 213.0,49.8 214.1,50.3 215.1,50.7 216.2,51.2 217.2,51.6 218.3,52.1 219.3,52.5 220.4,53.0 221.4,53.4 222.5,53.9 223.5,54.4 224.6,54.8 225.6,55.3 226.7,55.7 227.7,56.2 228.7,56.7 229.8,57.1 230.8,57.6 231.9,58.1 232.9,58.6 233.9,59.1 235.0,59.6 236.0,60.0 237.1,60.5 238.1,61.0 239.1,61.5 240.2,62.0 241.2,62.4 242.2,62.9 243.3,63.4 244.3,63.9 245.3,64.4 246.3,65.1 247.3,65.7 248.2,66.3 249.2,66.9 250.2,67.5 251.1,68.1 252.0,68.8 252.9,69.6 253.7,70.3 254.6,71.1 255.4,71.9 256.3,72.6 257.1,73.4 258.0,74.2 258.8,74.9 259.7,75.7 260.5,76.5 261.4,77.2 262.2,78.0 263.1,78.7 263.9,79.5 264.8,80.3 265.7,81.0 266.5,81.8 267.3,82.6 267.9,83.6 268.5,84.6 269.1,85.5 269.7,86.5" fill="none" stroke="#000" stroke-width="1.6"/><polyline points="82.5,89.5 82.8,88.5 83.2,87.4 83.5,86.4 83.8,85.3 84.4,84.3 85.1,83.4 85.7,82.4 86.4,81.5 87.0,80.6 87.7,79.6 88.4,78.7 89.0,77.8 89.7,76.9 90.4,76.0 91.1,75.1 91.8,74.2 92.6,73.4 93.4,72.6 94.2,71.8 94.9,71.0 95.7,70.2 96.5,69.3 97.3,68.5 98.0,67.7 98.8,66.8 99.6,66.0 100.3,65.2 101.1,64.3 101.9,63.5 102.7,62.7 103.5,61.8 104.3,61.0 105.1,60.2 105.8,59.4 106.6,58.5 107.4,57.7 108.2,56.9 109.0,56.0 109.8,55.2 110.6,54.3 111.4,53.5 112.1,52.6 112.9,51.8 113.7,51.0 114.5,50.1 115.3,49.3 116.1,48.5 116.9,47.7 117.8,46.9 118.6,46.1 119.4,45.4 120.2,44.6 121.1,43.9 121.9,43.1 122.7,42.4 123.6,41.7 124.4,40.9 125.2,40.2 126.1,39.5 126.9,38.7 127.7,38.0 128.6,37.2 129.5,36.6 130.6,36.3 131.7,35.9 132.7,35.6 133.8,35.4 134.9,35.2 136.0,34.9 137.1,34.7 138.2,34.5 139.3,34.2 140.4,34.0 141.5,33.8 142.7,33.6 143.8,33.4 144.9,33.3 146.0,33.2 147.2,33.1 148.3,33.0 149.5,32.9 150.7,32.9 151.8,32.9 153.0,32.9 154.2,33.0 155.3,33.0 156.5,33.3 157.6,33.6 158.8,33.9 159.9,34.2 161.0,34.5 162.1,34.9 163.2,35.2 164.3,35.4 165.3,35.7 166.4,35.9 167.5,36.1 168.5,36.2 169.6,36.4 170.7,36.5 171.8,36.7 172.8,36.9 173.9,37.1 175.0,37.4 176.0,37.8 177.1,38.1 178.2,38.5 179.3,38.9 180.4,39.3 181.5,39.8 182.6,40.3 183.7,40.8 184.8,41.3 185.9,41.8 187.0,42.2 188.1,42.7 189.2,43.1 190.3,43.5 191.4,43.9 192.5,44.3 193.6,44.6 194.7,44.9 195.7,45.2 196.8,45.4 197.9,45.7 199.0,45.9 200.1,46.1 201.1,46.3 202.2,46.5 203.3,46.7 204.4,46.9 205.5,47.2 206.6,47.5 207.7,47.8 208.8,48.1 209.9,48.5 210.9,48.9 212.0,49.4 213.0,49.9 214.1,50.5 215.1,51.0 216.2,51.6 217.2,52.1 218.2,52.7 219.3,53.2 220.3,53.8 221.4,54.3 222.4,54.8 223.5,55.3 224.5,55.7 225.5,56.1 226.6,56.5 227.6,56.9 228.7,57.3 229.7,57.7 230.8,58.1 231.8,58.5 232.9,58.9 233.9,59.3 235.0,59.7 236.0,60.1 237.0,60.6 238.1,61.0 239.1,61.5 240.2,62.0 241.2,62.5 242.2,63.0 243.3,63.5 244.3,64.1 245.3,64.7 246.2,65.3 247.2,66.0 248.1,66.7 249.1,67.3 250.0,68.0 250.9,68.6 251.8,69.4 252.7,70.1 253.5,70.9 254.4,71.6 255.2,72.4 256.1,73.1 256.9,73.8 257.8,74.5 258.7,75.3 259.5,76.0 260.4,76.7 261.3,77.4 262.1,78.2 263.0,78.9 263.9,79.6 264.7,80.4 265.6,81.1 266.5,81.9 267.2,82.7 267.8,83.7 268.4,84.7 269.1,85.6 269.7,86.5" fill="none" stroke="#000" stroke-width="1.0"/><polyline points="82.5,89.5 82.8,88.5 83.1,87.4 83.4,86.3 83.7,85.2 84.3,84.2 85.0,83.3 85.6,82.3 86.3,81.4 87.0,80.6 87.7,79.7 88.5,78.9 89.2,78.1 90.0,77.3 90.8,76.5 91.5,75.7 92.3,74.9 93.1,74.1 93.9,73.4 94.7,72.6 95.5,71.8 96.3,71.0 97.1,70.1 97.8,69.2 98.5,68.4 99.2,67.5 99.9,66.6 100.7,65.7 101.4,64.8 102.2,63.9 103.0,63.1 103.8,62.3 104.6,61.5 105.4,60.8 106.2,60.0 107.1,59.3 107.9,58.6 108.7,57.9 109.6,57.1 110.4,56.4 111.2,55.7 112.1,54.9 112.9,54.1 113.6,53.3 114.4,52.5 115.2,51.6 115.9,50.7 116.7,49.8 117.4,48.8 118.2,47.9 118.9,46.9 119.6,45.9 120.4,45.0 121.1,44.1 121.9,43.2 122.7,42.3 123.5,41.4 124.3,40.6 125.1,39.8 125.9,39.1 126.8,38.3 127.6,37.7 128.5,37.0 129.5,36.6 130.6,36.4 131.8,36.3 133.0,36.2 134.1,36.2 135.3,36.2 136.4,36.1 137.6,36.0 138.7,35.8 139.8,35.7 140.9,35.5 142.0,35.3 143.1,35.0 144.2,34.8 145.3,34.5 146.4,34.3 147.5,34.0 148.6,33.8 149.7,33.6 150.8,33.5 151.9,33.3 153.1,33.3 154.2,33.2 155.4,33.3 156.5,33.5 157.7,33.9 158.8,34.2 160.0,34.6 161.1,35.0 162.2,35.4 163.3,35.9 164.4,36.3 165.5,36.6 166.6,37.0 167.7,37.3 168.7,37.5 169.8,37.8 170.9,38.0 171.9,38.2 173.0,38.4 174.1,38.6 175.1,38.8 176.2,39.1 177.3,39.4 178.3,39.7 179.4,40.0 180.5,40.4 181.6,40.8 182.7,41.2 183.8,41.6 184.9,42.1 186.0,42.5 187.1,42.9 188.2,43.3 189.3,43.7 190.4,44.1 191.5,44.4 192.5,44.8 193.6,45.0 194.7,45.3 195.8,45.5 196.9,45.8 197.9,46.0 199.0,46.2 200.1,46.4 201.2,46.6 202.2,46.8 203.3,47.0 204.4,47.2 205.5,47.4 206.6,47.7 207.7,48.0 208.8,48.4 209.9,48.7 210.9,49.2 212.0,49.8 213.0,50.3 214.1,50.9 215.1,51.5 216.1,52.1 217.2,52.6 218.2,53.2 219.3,53.7 220.3,54.3 221.3,54.8 222.4,55.3 223.4,55.7 224.5,56.2 225.5,56.6 226.5,57.0 227.6,57.4 228.6,57.8 229.7,58.3 230.7,58.7 231.7,59.1 232.8,59.5 233.8,60.0 234.8,60.5 235.9,60.9 236.9,61.4 237.9,61.9 239.0,62.4 240.0,62.9 241.0,63.4 242.0,63.9 243.1,64.4 244.1,64.9 245.1,65.5 246.0,66.0 247.0,66.6 247.9,67.2 248.9,67.8 249.9,68.3 250.9,68.8 251.8,69.4 252.7,70.1 253.6,70.8 254.4,71.4 255.3,72.1 256.2,72.8 257.1,73.5 257.9,74.2 258.8,75.0 259.6,75.7 260.5,76.5 261.3,77.3 262.2,78.1 263.0,78.9 263.8,79.7 264.6,80.6 265.5,81.4 266.3,82.2 267.0,83.1 267.6,84.1 268.3,84.9 269.0,85.7 269.7,86.5" fill="none" stroke="#000" stroke-width="0.8"/><polyline points="82.5,89.5 83.0,88.6 83.4,87.8 83.9,86.9 84.4,86.0 85.1,85.2 85.7,84.3 86.4,83.4 87.1,82.5 87.8,81.6 88.5,80.7 89.2,79.8 89.9,78.9 90.6,78.1 91.3,77.2 92.0,76.3 92.6,75.4 93.4,74.5 94.1,73.7 94.9,72.8 95.6,71.9 96.4,71.1 97.1,70.2 97.8,69.3 98.5,68.4 99.3,67.6 100.0,66.7 100.8,65.9 101.6,65.1 102.4,64.4 103.3,63.6 104.1,62.9 105.0,62.2 105.8,61.5 106.7,60.8 107.5,60.1 108.4,59.4 109.2,58.7 110.0,57.9 110.8,57.2 111.6,56.4 112.4,55.5 113.1,54.7 113.9,53.7 114.6,52.8 115.3,51.9 116.0,50.9 116.7,49.9 117.5,49.0 118.2,48.0 118.9,47.0 119.7,46.1 120.5,45.3 121.3,44.4 122.1,43.6 122.9,42.9 123.8,42.2 124.6,41.5 125.5,40.9 126.4,40.3 127.3,39.7 128.2,39.1 129.1,38.5 130.1,38.2 131.2,38.0 132.4,37.8 133.5,37.7 134.6,37.5 135.7,37.3 136.8,37.1 137.9,36.9 139.0,36.6 140.0,36.3 141.1,36.0 142.2,35.8 143.3,35.5 144.3,35.3 145.4,35.1 146.6,34.9 147.7,34.7 148.8,34.6 150.0,34.6 151.1,34.5 152.3,34.5 153.4,34.6 154.6,34.7 155.7,34.7 156.8,35.0 158.0,35.3 159.1,35.5 160.2,35.8 161.3,36.0 162.3,36.2 163.4,36.4 164.4,36.5 165.5,36.7 166.6,36.8 167.6,37.0 168.7,37.1 169.7,37.3 170.8,37.5 171.9,37.8 173.0,38.1 174.1,38.5 175.2,39.0 176.3,39.5 177.4,40.0 178.5,40.6 179.6,41.2 180.7,41.8 181.8,42.3 182.9,42.9 184.0,43.3 185.1,43.8 186.2,44.1 187.3,44.5 188.3,44.7 189.4,44.9 190.5,45.1 191.5,45.2 192.6,45.3 193.7,45.3 194.7,45.4 195.8,45.5 196.9,45.6 197.9,45.8 199.0,46.0 200.1,46.2 201.2,46.5 202.3,46.8 203.3,47.2 204.4,47.7 205.5,48.1 206.6,48.6 207.7,49.1 208.8,49.6 209.9,50.1 210.9,50.7 212.0,51.3 213.0,51.9 214.1,52.4 215.1,52.9 216.1,53.3 217.2,53.7 218.2,54.1 219.2,54.4 220.3,54.8 221.3,55.1 222.4,55.4 223.4,55.7 224.5,56.1 225.5,56.5 226.6,56.8 227.6,57.3 228.6,57.7 229.7,58.2 230.7,58.7 231.7,59.3 232.7,59.8 233.8,60.4 234.8,60.9 235.8,61.4 236.8,61.9 237.8,62.4 238.9,62.9 239.9,63.4 240.9,63.8 242.0,64.2 243.0,64.6 244.1,65.0 245.1,65.5 246.1,66.0 247.0,66.5 248.0,67.0 249.0,67.6 249.9,68.2 250.9,68.8 251.8,69.5 252.6,70.2 253.5,71.0 254.3,71.9 255.1,72.7 255.9,73.6 256.7,74.4 257.5,75.2 258.3,76.1 259.1,76.9 260.0,77.7 260.8,78.5 261.6,79.2 262.5,80.0 263.4,80.7 264.2,81.4 265.1,82.0 266.0,82.7 266.8,83.4 267.5,84.2 268.3,85.0 269.0,85.7 269.7,86.5" fill="none" stroke="#000" stroke-width="0.7"/><polyline points="82.5,89.5 83.1,88.8 83.7,88.1 84.3,87.4 84.9,86.7 85.6,85.9 86.2,84.9 86.8,83.9 87.4,82.8 88.0,81.8 88.5,80.8 89.1,79.7 89.7,78.7 90.3,77.7 90.9,76.7 91.6,75.8 92.3,74.9 93.1,74.1 93.9,73.3 94.8,72.6 95.7,72.0 96.6,71.4 97.5,70.7 98.4,70.1 99.3,69.5 100.2,69.0 101.1,68.3 102.0,67.7 102.9,67.1 103.7,66.4 104.5,65.7 105.3,64.9 106.1,64.1 106.8,63.2 107.5,62.2 108.2,61.3 108.8,60.3 109.5,59.2 110.1,58.2 110.8,57.1 111.4,56.1 112.1,55.0 112.8,54.0 113.5,52.9 114.2,51.9 114.9,51.0 115.7,50.1 116.4,49.2 117.2,48.4 118.0,47.6 118.9,46.9 119.7,46.2 120.6,45.5 121.5,44.9 122.4,44.3 123.3,43.8 124.2,43.2 125.1,42.7 126.0,42.1 126.9,41.5 127.8,40.9 128.6,40.3 129.5,39.6 130.5,39.2 131.6,38.9 132.6,38.6 133.7,38.3 134.8,38.1 135.9,37.9 137.0,37.7 138.1,37.4 139.2,37.2 140.3,37.0 141.4,36.8 142.5,36.7 143.6,36.6 144.7,36.5 145.9,36.4 147.0,36.4 148.1,36.4 149.3,36.4 150.4,36.4 151.6,36.3 152.7,36.3 153.9,36.4 155.0,36.5 156.1,36.5 157.2,36.7 158.3,36.8 159.3,36.9 160.4,36.9 161.4,36.9 162.5,37.0 163.5,37.0 164.5,36.9 165.5,36.9 166.6,36.8 167.6,36.8 168.6,36.7 169.7,36.7 170.7,36.7 171.8,36.8 172.8,37.0 173.9,37.3 175.0,37.6 176.1,38.1 177.2,38.6 178.3,39.2 179.4,39.8 180.5,40.5 181.6,41.2 182.8,42.0 183.9,42.7 185.0,43.5 186.2,44.2 187.3,44.8 188.4,45.5 189.6,46.1 190.7,46.6 191.8,47.1 192.9,47.5 193.9,47.8 195.0,48.1 196.1,48.4 197.2,48.6 198.2,48.8 199.3,48.9 200.3,49.0 201.4,49.1 202.4,49.2 203.5,49.2 204.5,49.3 205.6,49.4 206.7,49.5 207.7,49.6 208.8,49.8 209.9,50.0 210.9,50.3 212.0,50.7 213.0,51.1 214.1,51.5 215.1,52.0 216.1,52.5 217.2,52.9 218.2,53.4 219.3,53.9 220.3,54.4 221.3,54.9 222.4,55.4 223.4,55.8 224.4,56.3 225.5,56.7 226.5,57.2 227.6,57.6 228.6,58.0 229.6,58.4 230.7,58.8 231.7,59.3 232.7,59.7 233.8,60.2 234.8,60.6 235.8,61.1 236.9,61.6 237.9,62.1 238.9,62.7 239.9,63.2 240.9,63.8 241.9,64.4 242.9,65.0 243.9,65.6 244.9,66.2 245.8,67.0 246.7,67.7 247.6,68.5 248.5,69.2 249.3,69.9 250.2,70.6 251.1,71.3 251.9,72.1 252.8,72.7 253.7,73.4 254.6,74.0 255.5,74.6 256.4,75.2 257.3,75.8 258.2,76.4 259.1,76.9 260.0,77.5 261.0,78.1 261.9,78.7 262.8,79.3 263.7,80.0 264.6,80.6 265.5,81.3 266.4,82.0 267.1,82.9 267.8,83.8 268.4,84.8 269.0,85.6 269.7,86.5" fill="none" stroke="#000" stroke-width="0.7" stroke-dasharray="9 2 4 2"/><polyline points="82.5,89.5 83.2,88.9 83.9,88.4 84.6,87.8 85.4,87.3 86.2,86.6 86.9,85.8 87.6,84.9 88.3,84.1 89.0,83.2 89.7,82.3 90.4,81.4 91.1,80.5 91.8,79.6 92.5,78.8 93.2,77.9 93.9,77.1 94.7,76.3 95.5,75.5 96.3,74.8 97.1,74.0 98.0,73.3 98.8,72.6 99.6,71.8 100.4,71.1 101.1,70.3 101.9,69.5 102.7,68.7 103.4,67.9 104.2,67.1 104.9,66.2 105.6,65.3 106.3,64.4 107.0,63.5 107.7,62.5 108.3,61.6 109.0,60.6 109.6,59.6 110.3,58.6 111.0,57.6 111.7,56.6 112.4,55.7 113.2,54.8 113.9,53.9 114.7,53.0 115.4,52.1 116.2,51.3 117.0,50.6 117.8,49.8 118.7,49.1 119.5,48.4 120.3,47.8 121.2,47.1 122.1,46.5 123.0,46.0 123.9,45.4 124.8,44.8 125.7,44.2 126.5,43.5 127.4,42.9 128.3,42.2 129.1,41.5 130.0,40.8 130.9,40.4 132.0,40.0 133.1,39.7 134.1,39.4 135.2,39.2 136.3,39.0 137.3,38.7 138.4,38.5 139.5,38.3 140.6,38.1 141.7,38.0 142.9,37.9 144.0,37.8 145.1,37.8 146.3,37.8 147.4,37.7 148.5,37.7 149.7,37.8 150.8,37.8 152.0,37.8 153.1,37.8 154.2,37.9 155.3,38.1 156.4,38.2 157.5,38.4 158.6,38.6 159.7,38.8 160.8,38.9 161.8,39.0 162.9,39.1 163.9,39.2 164.9,39.3 165.9,39.4 167.0,39.5 168.0,39.5 169.0,39.6 170.1,39.7 171.1,39.8 172.2,40.0 173.2,40.1 174.3,40.4 175.4,40.6 176.4,40.9 177.5,41.3 178.6,41.7 179.7,42.1 180.8,42.5 181.9,42.9 183.0,43.4 184.1,43.8 185.1,44.2 186.2,44.6 187.3,45.0 188.4,45.4 189.5,45.7 190.6,46.0 191.7,46.3 192.8,46.6 193.8,46.9 194.9,47.1 196.0,47.4 197.1,47.6 198.1,47.9 199.2,48.2 200.3,48.4 201.3,48.7 202.4,49.0 203.5,49.4 204.6,49.7 205.6,50.1 206.7,50.4 207.8,50.8 208.9,51.2 209.9,51.7 211.0,52.2 212.0,52.8 213.0,53.3 214.1,53.9 215.1,54.4 216.1,54.9 217.1,55.4 218.1,55.9 219.2,56.4 220.2,56.8 221.2,57.2 222.2,57.6 223.3,58.0 224.3,58.3 225.3,58.7 226.4,59.0 227.4,59.3 228.4,59.6 229.5,59.9 230.5,60.3 231.5,60.6 232.6,60.9 233.6,61.3 234.7,61.7 235.7,62.0 236.7,62.5 237.8,62.9 238.8,63.3 239.8,63.8 240.8,64.3 241.9,64.8 242.9,65.2 243.9,65.7 244.9,66.3 245.8,66.9 246.7,67.6 247.6,68.2 248.6,68.9 249.5,69.5 250.4,70.2 251.3,70.8 252.1,71.5 253.0,72.2 253.9,72.9 254.7,73.6 255.6,74.3 256.5,75.0 257.3,75.7 258.2,76.4 259.0,77.1 259.9,77.8 260.7,78.6 261.6,79.3 262.4,80.0 263.3,80.8 264.1,81.6 265.0,82.3 265.8,83.1 266.6,83.9 267.3,84.8 268.0,85.5 268.8,86.0 269.7,86.5" fill="none" stroke="#000" stroke-width="0.7"/><polyline points="82.5,89.5 83.2,88.9 83.9,88.3 84.6,87.7 85.3,87.2 86.1,86.6 86.9,85.8 87.7,85.1 88.6,84.4 89.4,83.7 90.3,83.0 91.1,82.4 92.0,81.7 92.8,81.0 93.6,80.3 94.4,79.6 95.2,78.8 96.0,78.1 96.8,77.2 97.5,76.4 98.2,75.5 98.9,74.6 99.5,73.6 100.1,72.6 100.7,71.6 101.3,70.6 102.0,69.6 102.6,68.7 103.3,67.8 104.1,66.9 104.8,66.1 105.6,65.4 106.4,64.7 107.3,64.0 108.1,63.3 109.0,62.7 109.8,62.1 110.7,61.5 111.5,60.8 112.4,60.2 113.2,59.6 114.0,58.9 114.8,58.2 115.6,57.4 116.3,56.6 117.1,55.8 117.8,54.9 118.5,54.0 119.2,53.1 119.9,52.2 120.7,51.2 121.4,50.3 122.2,49.5 123.0,48.7 123.8,47.9 124.6,47.1 125.4,46.4 126.3,45.7 127.1,45.0 128.0,44.3 128.8,43.7 129.7,43.0 130.6,42.4 131.5,42.0 132.6,41.7 133.7,41.5 134.7,41.1 135.8,40.8 136.8,40.5 137.8,40.1 138.8,39.7 139.8,39.2 140.8,38.8 141.8,38.3 142.9,37.9 143.9,37.6 144.9,37.2 146.0,36.9 147.1,36.7 148.2,36.5 149.3,36.3 150.4,36.3 151.6,36.3 152.7,36.3 153.9,36.5 155.1,36.8 156.2,37.2 157.4,37.7 158.5,38.2 159.7,38.7 160.8,39.1 161.9,39.6 163.0,40.1 164.1,40.5 165.2,40.9 166.2,41.2 167.3,41.5 168.3,41.7 169.4,42.0 170.4,42.2 171.4,42.4 172.5,42.6 173.6,42.7 174.6,43.0 175.7,43.2 176.8,43.6 177.9,43.9 178.9,44.3 180.0,44.7 181.1,45.1 182.2,45.5 183.3,45.9 184.4,46.3 185.5,46.7 186.5,47.1 187.6,47.4 188.7,47.7 189.8,47.9 190.8,48.1 191.9,48.3 193.0,48.4 194.0,48.5 195.1,48.6 196.1,48.7 197.2,48.9 198.2,49.1 199.3,49.3 200.4,49.5 201.4,49.7 202.5,50.0 203.6,50.4 204.6,50.8 205.7,51.2 206.8,51.6 207.8,52.1 208.9,52.6 210.0,53.0 211.0,53.6 212.0,54.2 213.0,54.8 214.0,55.3 215.1,55.8 216.1,56.3 217.1,56.7 218.1,57.1 219.1,57.4 220.1,57.8 221.2,58.1 222.2,58.3 223.2,58.6 224.3,58.9 225.3,59.1 226.3,59.4 227.4,59.7 228.4,60.0 229.4,60.4 230.4,60.8 231.5,61.2 232.5,61.6 233.5,62.1 234.5,62.5 235.5,63.0 236.6,63.4 237.6,63.9 238.6,64.4 239.6,64.8 240.6,65.2 241.7,65.6 242.7,66.0 243.7,66.4 244.7,66.8 245.7,67.3 246.6,67.9 247.6,68.4 248.5,68.9 249.5,69.5 250.4,70.1 251.3,70.7 252.2,71.4 253.0,72.1 253.9,72.9 254.7,73.7 255.5,74.5 256.3,75.3 257.1,76.2 257.9,77.0 258.7,77.8 259.5,78.7 260.3,79.5 261.1,80.3 261.9,81.1 262.8,81.8 263.6,82.6 264.5,83.3 265.3,84.0 266.1,84.7 266.9,85.4 267.8,85.9 268.8,86.2 269.7,86.5" fill="none" stroke="#000" stroke-width="0.7" stroke-dasharray="6 2 8 3"/><polyline points="82.5,89.5 83.2,89.0 83.9,88.4 84.7,87.9 85.4,87.3 86.2,86.7 87.0,85.9 87.7,85.1 88.5,84.3 89.2,83.5 90.0,82.7 90.8,82.0 91.6,81.2 92.4,80.4 93.2,79.7 94.0,79.0 94.8,78.2 95.6,77.6 96.5,76.9 97.4,76.2 98.2,75.5 99.1,74.9 99.9,74.2 100.7,73.5 101.5,72.7 102.3,72.0 103.1,71.3 103.9,70.6 104.6,69.8 105.4,69.1 106.2,68.4 107.0,67.7 107.8,66.9 108.5,66.2 109.3,65.4 110.1,64.7 110.8,63.9 111.6,63.2 112.3,62.4 113.1,61.7 113.9,60.9 114.6,60.2 115.4,59.4 116.1,58.6 116.9,57.8 117.7,57.0 118.4,56.2 119.1,55.4 119.9,54.6 120.6,53.8 121.4,53.0 122.1,52.1 122.9,51.4 123.7,50.6 124.5,49.8 125.4,49.1 126.2,48.3 127.0,47.5 127.8,46.7 128.6,45.9 129.4,45.1 130.2,44.3 131.0,43.5 131.9,43.0 132.9,42.6 134.0,42.3 135.0,41.9 136.0,41.6 137.1,41.3 138.1,41.0 139.2,40.7 140.2,40.4 141.3,40.2 142.4,40.0 143.4,39.8 144.5,39.5 145.6,39.4 146.7,39.2 147.8,39.0 148.8,38.8 149.9,38.6 151.0,38.5 152.1,38.3 153.2,38.2 154.3,38.2 155.4,38.3 156.5,38.4 157.6,38.6 158.7,38.9 159.8,39.1 160.9,39.4 161.9,39.6 163.0,40.0 164.1,40.4 165.1,40.8 166.2,41.2 167.3,41.6 168.4,42.0 169.4,42.4 170.5,42.8 171.6,43.2 172.6,43.6 173.7,43.9 174.8,44.3 175.9,44.6 177.0,45.0 178.0,45.3 179.1,45.7 180.2,46.0 181.3,46.3 182.4,46.7 183.4,47.0 184.5,47.3 185.6,47.6 186.7,47.9 187.7,48.2 188.8,48.5 189.9,48.8 191.0,49.0 192.0,49.3 193.1,49.6 194.2,49.8 195.2,50.1 196.3,50.4 197.4,50.7 198.4,51.0 199.5,51.3 200.5,51.6 201.6,51.9 202.6,52.2 203.7,52.5 204.7,52.8 205.8,53.0 206.8,53.3 207.9,53.6 208.9,53.9 210.0,54.2 211.0,54.6 212.0,54.9 213.0,55.3 214.0,55.7 215.1,56.1 216.1,56.5 217.1,56.9 218.1,57.3 219.1,57.6 220.1,58.0 221.1,58.4 222.2,58.8 223.2,59.2 224.2,59.6 225.2,59.9 226.2,60.3 227.3,60.7 228.3,61.1 229.3,61.5 230.3,61.9 231.3,62.3 232.3,62.6 233.4,63.0 234.4,63.4 235.4,63.8 236.4,64.2 237.5,64.6 238.5,65.0 239.5,65.4 240.5,65.8 241.5,66.2 242.6,66.6 243.6,67.0 244.6,67.5 245.5,68.0 246.4,68.7 247.3,69.3 248.2,69.9 249.1,70.6 250.0,71.2 250.9,71.9 251.7,72.6 252.6,73.3 253.4,74.0 254.3,74.7 255.2,75.4 256.0,76.1 256.9,76.8 257.7,77.5 258.5,78.2 259.4,78.9 260.2,79.6 261.1,80.4 262.0,81.1 262.8,81.8 263.7,82.5 264.5,83.2 265.4,83.9 266.2,84.6 267.0,85.4 267.8,85.9 268.8,86.2 269.7,86.5" fill="none" stroke="#000" stroke-width="0.7"/><polyline points="82.5,89.5 83.5,89.3 84.5,89.1 85.5,88.8 86.4,88.6 87.3,88.1 88.1,87.4 88.9,86.6 89.7,85.9 90.5,85.1 91.3,84.4 92.1,83.7 92.9,83.0 93.8,82.3 94.6,81.6 95.4,80.9 96.3,80.2 97.1,79.6 98.0,78.9 98.8,78.2 99.6,77.5 100.4,76.7 101.1,75.9 101.8,75.1 102.5,74.2 103.1,73.3 103.8,72.3 104.4,71.4 105.1,70.5 105.7,69.5 106.4,68.6 107.0,67.7 107.7,66.8 108.4,65.9 109.1,65.1 109.8,64.3 110.5,63.4 111.3,62.6 112.0,61.9 112.8,61.2 113.6,60.5 114.4,59.8 115.2,59.1 116.1,58.4 116.9,57.7 117.6,57.0 118.4,56.3 119.2,55.6 120.0,54.9 120.7,54.1 121.5,53.3 122.2,52.5 123.1,51.8 123.9,51.0 124.7,50.2 125.5,49.4 126.3,48.6 127.1,47.8 127.9,47.0 128.7,46.2 129.5,45.4 130.3,44.6 131.1,43.9 132.1,43.5 133.2,43.2 134.2,43.0 135.3,42.8 136.4,42.7 137.5,42.6 138.7,42.5 139.8,42.4 140.9,42.3 142.0,42.3 143.1,42.2 144.2,42.2 145.3,42.1 146.4,42.1 147.5,42.0 148.6,41.8 149.7,41.7 150.7,41.5 151.8,41.3 152.9,41.1 153.9,40.9 155.0,41.0 156.0,41.1 157.1,41.2 158.1,41.3 159.2,41.5 160.3,41.7 161.3,41.9 162.4,42.1 163.4,42.5 164.5,42.9 165.6,43.3 166.6,43.8 167.7,44.2 168.8,44.7 169.8,45.2 170.9,45.7 171.9,46.1 173.0,46.5 174.1,46.9 175.2,47.2 176.2,47.4 177.3,47.7 178.4,47.9 179.4,48.0 180.5,48.2 181.5,48.3 182.6,48.4 183.6,48.5 184.7,48.5 185.7,48.6 186.8,48.7 187.8,48.8 188.9,48.9 189.9,49.0 191.0,49.1 192.0,49.3 193.1,49.5 194.2,49.7 195.2,49.9 196.3,50.2 197.4,50.5 198.4,50.8 199.5,51.2 200.5,51.5 201.6,51.9 202.6,52.2 203.7,52.5 204.7,52.9 205.8,53.2 206.9,53.5 207.9,53.8 209.0,54.1 210.0,54.3 211.0,54.7 212.0,55.1 213.0,55.4 214.0,55.8 215.1,56.1 216.1,56.5 217.1,56.9 218.1,57.2 219.1,57.7 220.1,58.1 221.1,58.5 222.2,59.0 223.2,59.4 224.2,59.9 225.2,60.4 226.2,61.0 227.2,61.5 228.2,62.0 229.2,62.5 230.2,63.1 231.2,63.6 232.2,64.1 233.2,64.5 234.2,65.0 235.2,65.4 236.2,65.8 237.2,66.2 238.2,66.6 239.2,67.0 240.2,67.4 241.2,67.7 242.2,68.1 243.3,68.4 244.3,68.7 245.2,69.2 246.1,69.8 247.0,70.5 247.9,71.1 248.7,71.7 249.6,72.3 250.5,73.0 251.3,73.6 252.2,74.3 253.0,75.0 253.9,75.7 254.7,76.4 255.6,77.1 256.4,77.8 257.3,78.5 258.1,79.2 259.0,79.9 259.8,80.6 260.7,81.2 261.6,81.9 262.4,82.5 263.3,83.1 264.2,83.8 265.1,84.4 266.0,85.0 266.8,85.7 267.7,86.1 268.7,86.3 269.7,86.5" fill="none" stroke="#000" stroke-width="0.8"/></g><g clip-path="url(#bbot)"><polyline points="77.6,176.7 78.2,177.8 78.7,178.9 79.3,180.1 79.8,181.2 80.4,182.3 80.9,183.4 81.5,184.5 82.0,185.6 82.6,186.8 83.1,187.9 83.7,189.0 84.3,190.1 84.8,191.2 85.4,192.3 86.0,193.4 86.5,194.5 87.1,195.7 87.7,196.8 88.2,197.9 88.8,199.0 89.4,200.1 90.0,201.2 90.6,202.3 91.2,203.3 91.8,204.4 92.4,205.5 93.0,206.6 93.8,207.6 94.7,208.4 95.7,209.2 96.6,210.1 97.5,210.9 98.4,211.8 99.3,212.6 100.3,213.4 101.2,214.2 102.2,215.0 103.2,215.8 104.2,216.6 105.1,217.3 106.1,218.1 107.1,218.9 108.1,219.7 109.1,220.4 110.1,221.1 111.1,221.8 112.2,222.5 113.2,223.2 114.2,223.9 115.2,224.6 116.2,225.4 117.2,226.2 118.2,227.0 119.1,227.8 120.1,228.5 121.1,229.3 122.0,230.1 123.0,230.9 124.0,231.6 125.1,232.2 126.2,232.9 127.2,233.6 128.3,234.2 129.3,234.9 130.4,235.5 131.5,236.1 132.7,236.4 133.9,236.7 135.1,237.0 136.3,237.3 137.5,237.6 138.8,237.9 140.0,238.1 141.2,238.2 142.5,238.4 143.7,238.5 144.9,238.6 146.2,238.7 147.4,238.8 148.7,238.9 149.9,238.9 151.2,238.9 152.4,239.0 153.7,239.0 154.9,239.0 156.2,239.1 157.4,239.1 158.6,239.1 159.9,239.2 161.1,239.2 162.4,239.1 163.6,239.1 164.9,239.0 166.1,239.0 167.4,238.9 168.6,238.9 169.9,238.8 171.1,238.8 172.4,238.7 173.6,238.6 174.8,238.6 176.1,238.5 177.3,238.4 178.6,238.3 179.8,238.2 181.1,238.1 182.3,238.0 183.5,237.8 184.8,237.7 186.0,237.6 187.3,237.5 188.5,237.4 189.7,237.2 191.0,237.1 192.2,237.0 193.5,236.8 194.7,236.6 195.9,236.4 197.2,236.3 198.4,236.1 199.6,235.9 200.9,235.7 202.1,235.5 203.3,235.3 204.6,235.1 205.8,234.9 207.0,234.7 208.2,234.5 209.4,233.9 210.5,233.4 211.6,232.9 212.8,232.4 213.9,231.9 215.0,231.4 216.2,230.9 217.3,230.3 218.1,229.4 218.9,228.4 219.8,227.5 220.6,226.6 221.4,225.7 222.3,224.7 223.1,223.8 223.9,222.9 224.8,221.9 225.6,221.0 226.4,220.1 227.2,219.1 228.0,218.2 228.8,217.2 229.7,216.3 230.5,215.3 231.3,214.4 232.1,213.5 232.9,212.5 233.7,211.6 234.5,210.6 235.4,209.7 236.2,208.7 237.0,207.8 237.8,206.8 238.6,205.9 239.4,204.9 240.2,204.0 241.0,203.0 241.8,202.0 242.5,201.0 243.3,200.0 244.0,199.0 244.7,198.0 245.5,197.0 246.2,196.0 246.9,195.0 247.7,194.0 248.4,193.0 249.1,192.0 249.9,191.0 250.6,190.0 251.3,189.0 252.2,188.1 253.1,187.2 254.0,186.3 254.9,185.4 255.8,184.5 256.6,183.7 257.5,182.8 258.4,181.9 259.1,180.9 259.8,179.9 260.5,178.8 261.2,177.8 261.9,176.7 262.6,175.7 263.3,174.7 264.0,173.6 264.7,172.6 265.4,171.6 266.1,170.6 267.0,169.7" fill="none" stroke="#000" stroke-width="1.6"/><polyline points="77.6,176.7 78.2,177.7 78.8,178.8 79.4,179.8 80.0,180.9 80.5,182.1 81.1,183.2 81.6,184.3 82.2,185.4 82.7,186.5 83.3,187.7 83.8,188.8 84.4,189.9 84.9,191.1 85.5,192.2 86.0,193.3 86.6,194.5 87.1,195.6 87.7,196.7 88.3,197.8 88.9,198.9 89.5,199.9 90.1,201.0 90.8,202.0 91.4,203.0 92.1,204.1 92.7,205.1 93.4,206.1 94.2,207.1 95.1,207.9 96.0,208.7 96.9,209.6 97.8,210.4 98.7,211.3 99.6,212.2 100.5,213.0 101.4,213.9 102.4,214.7 103.3,215.6 104.2,216.4 105.2,217.2 106.1,218.1 107.1,218.9 108.1,219.7 109.1,220.4 110.1,221.1 111.1,221.8 112.2,222.5 113.2,223.2 114.2,223.8 115.3,224.5 116.3,225.2 117.3,225.9 118.3,226.6 119.3,227.3 120.3,228.0 121.3,228.7 122.3,229.4 123.3,230.1 124.3,230.8 125.4,231.4 126.5,232.0 127.5,232.7 128.6,233.3 129.7,233.9 130.7,234.6 131.8,235.1 133.0,235.4 134.2,235.7 135.4,236.0 136.7,236.3 137.9,236.6 139.1,236.8 140.3,237.0 141.6,237.1 142.8,237.2 144.0,237.3 145.3,237.4 146.5,237.5 147.7,237.6 148.9,237.7 150.2,237.8 151.4,238.0 152.6,238.1 153.8,238.2 155.0,238.4 156.3,238.5 157.5,238.7 158.7,238.8 159.9,239.0 161.2,239.1 162.4,239.1 163.6,239.0 164.9,239.0 166.1,238.9 167.4,238.8 168.7,238.6 169.9,238.5 171.2,238.3 172.4,238.1 173.7,237.9 174.9,237.7 176.2,237.6 177.4,237.4 178.7,237.2 179.9,237.1 181.2,237.0 182.4,236.9 183.6,236.8 184.9,236.7 186.1,236.7 187.3,236.7 188.5,236.7 189.8,236.7 191.0,236.7 192.2,236.7 193.5,236.6 194.7,236.5 195.9,236.3 197.2,236.2 198.4,236.0 199.6,235.8 200.9,235.6 202.1,235.3 203.3,235.1 204.6,234.8 205.8,234.5 207.0,234.3 208.2,233.9 209.3,233.4 210.5,232.8 211.6,232.2 212.7,231.7 213.9,231.1 215.0,230.6 216.1,230.1 217.2,229.5 218.1,228.6 218.9,227.7 219.7,226.8 220.6,225.8 221.4,224.9 222.2,224.0 223.1,223.1 223.9,222.1 224.7,221.2 225.5,220.2 226.4,219.2 227.2,218.3 228.0,217.3 228.8,216.3 229.6,215.4 230.4,214.4 231.2,213.5 232.0,212.6 232.8,211.7 233.7,210.8 234.5,210.0 235.3,209.1 236.1,208.2 236.9,207.4 237.7,206.5 238.5,205.7 239.4,204.8 240.2,203.9 241.0,203.0 241.8,202.0 242.5,201.0 243.3,200.0 244.0,199.0 244.7,198.0 245.4,196.9 246.2,195.9 246.9,194.8 247.6,193.7 248.3,192.7 249.0,191.6 249.8,190.5 250.5,189.5 251.2,188.4 252.1,187.5 253.0,186.6 253.9,185.8 254.7,184.9 255.6,184.1 256.5,183.2 257.4,182.4 258.3,181.5 259.0,180.6 259.7,179.6 260.4,178.6 261.1,177.6 261.8,176.6 262.5,175.6 263.2,174.6 263.9,173.5 264.6,172.5 265.3,171.5 266.1,170.5 267.0,169.7" fill="none" stroke="#000" stroke-width="1.0"/><polyline points="77.6,176.7 78.3,177.7 78.9,178.6 79.6,179.6 80.2,180.7 80.8,181.7 81.4,182.8 81.9,183.9 82.5,185.0 83.1,186.1 83.6,187.2 84.2,188.3 84.7,189.4 85.3,190.6 85.8,191.7 86.4,192.9 86.9,194.0 87.4,195.2 88.0,196.3 88.5,197.4 89.1,198.5 89.7,199.6 90.4,200.7 91.0,201.7 91.7,202.7 92.3,203.7 93.0,204.7 93.7,205.7 94.5,206.6 95.4,207.5 96.3,208.3 97.2,209.2 98.0,210.0 98.9,210.9 99.8,211.8 100.7,212.7 101.6,213.5 102.6,214.3 103.5,215.2 104.4,216.0 105.4,216.8 106.3,217.6 107.3,218.4 108.3,219.1 109.4,219.8 110.4,220.4 111.5,221.0 112.5,221.7 113.6,222.3 114.6,222.9 115.7,223.5 116.7,224.1 117.7,224.8 118.7,225.5 119.7,226.3 120.7,227.0 121.6,227.9 122.6,228.7 123.5,229.5 124.5,230.4 125.5,231.1 126.5,231.9 127.5,232.7 128.5,233.5 129.6,234.2 130.6,234.9 131.7,235.5 132.9,235.8 134.1,236.1 135.3,236.4 136.6,236.6 137.8,236.8 139.0,236.9 140.3,237.0 141.6,237.0 142.8,237.1 144.1,237.2 145.3,237.3 146.5,237.4 147.7,237.6 149.0,237.7 150.2,237.8 151.4,238.0 152.6,238.1 153.8,238.3 155.0,238.4 156.3,238.4 157.5,238.5 158.8,238.5 160.0,238.4 161.3,238.3 162.6,238.1 163.9,237.8 165.1,237.5 166.4,237.2 167.7,236.9 169.0,236.6 170.2,236.3 171.5,236.1 172.7,235.9 174.0,235.7 175.2,235.6 176.4,235.6 177.7,235.6 178.9,235.6 180.1,235.6 181.3,235.6 182.5,235.7 183.7,235.7 184.9,235.7 186.2,235.7 187.4,235.6 188.6,235.6 189.9,235.5 191.1,235.3 192.3,235.2 193.5,234.9 194.8,234.7 196.0,234.5 197.2,234.3 198.4,234.1 199.7,233.9 200.9,233.8 202.1,233.7 203.3,233.6 204.6,233.6 205.8,233.6 207.0,233.6 208.2,233.5 209.3,233.2 210.5,232.8 211.6,232.5 212.8,232.1 213.9,231.7 215.0,231.2 216.2,230.7 217.3,230.2 218.1,229.2 218.9,228.2 219.8,227.1 220.6,226.1 221.4,225.0 222.2,224.0 223.1,222.9 223.9,221.9 224.7,220.9 225.5,219.9 226.3,219.0 227.1,218.0 228.0,217.1 228.8,216.2 229.6,215.3 230.4,214.5 231.2,213.6 232.0,212.7 232.8,211.8 233.7,210.9 234.5,209.9 235.3,209.0 236.1,208.0 236.9,206.9 237.6,205.9 238.4,204.9 239.2,203.8 240.0,202.8 240.8,201.7 241.6,200.7 242.3,199.6 243.0,198.6 243.7,197.6 244.5,196.7 245.2,195.7 245.9,194.8 246.7,193.9 247.4,193.0 248.2,192.1 249.0,191.2 249.7,190.3 250.5,189.3 251.2,188.4 252.1,187.6 253.0,186.7 253.9,185.8 254.7,184.9 255.6,184.0 256.5,183.0 257.3,182.1 258.2,181.1 258.9,180.0 259.5,179.0 260.2,177.9 260.9,176.8 261.6,175.8 262.3,174.8 263.1,173.8 263.8,172.8 264.5,171.8 265.3,171.0 266.1,170.3 267.0,169.7" fill="none" stroke="#000" stroke-width="0.8"/><polyline points="77.6,176.7 78.3,177.6 79.0,178.6 79.6,179.6 80.2,180.7 80.7,181.8 81.3,182.9 81.9,184.0 82.5,185.0 83.1,186.1 83.7,187.1 84.3,188.1 84.9,189.2 85.6,190.2 86.2,191.2 86.8,192.3 87.4,193.3 88.0,194.4 88.6,195.5 89.1,196.6 89.7,197.7 90.2,198.9 90.8,200.1 91.3,201.2 91.9,202.4 92.4,203.6 92.9,204.8 93.4,206.0 94.1,207.1 95.0,208.0 95.9,208.9 96.8,209.8 97.7,210.6 98.6,211.4 99.6,212.2 100.5,212.9 101.6,213.6 102.6,214.2 103.6,214.9 104.7,215.5 105.7,216.2 106.7,216.8 107.7,217.5 108.7,218.2 109.8,218.8 110.8,219.5 111.8,220.3 112.8,221.0 113.7,221.8 114.7,222.6 115.7,223.4 116.7,224.2 117.6,225.1 118.6,225.9 119.5,226.7 120.5,227.5 121.5,228.2 122.5,228.9 123.5,229.5 124.6,230.1 125.7,230.5 126.9,230.9 128.0,231.3 129.2,231.6 130.4,231.9 131.5,232.2 132.7,232.5 134.0,232.6 135.2,232.8 136.4,233.1 137.5,233.5 138.7,233.9 139.8,234.3 141.0,234.7 142.1,235.2 143.2,235.7 144.3,236.1 145.5,236.6 146.6,237.0 147.8,237.4 149.0,237.6 150.2,237.8 151.4,238.0 152.6,238.0 153.9,238.0 155.1,237.9 156.4,237.8 157.7,237.6 159.0,237.3 160.3,237.1 161.6,236.9 162.8,236.6 164.1,236.4 165.3,236.2 166.6,236.1 167.8,236.0 169.0,236.0 170.2,236.1 171.5,236.2 172.7,236.4 173.9,236.6 175.1,236.8 176.3,237.0 177.5,237.1 178.7,237.2 179.9,237.2 181.1,237.1 182.4,237.0 183.6,236.8 184.9,236.5 186.1,236.2 187.4,235.8 188.6,235.3 189.9,234.9 191.1,234.5 192.4,234.0 193.6,233.6 194.8,233.2 196.1,232.8 197.3,232.5 198.5,232.3 199.7,232.2 200.9,232.1 202.1,232.1 203.4,232.1 204.6,232.2 205.8,232.3 207.0,232.4 208.2,232.4 209.3,232.1 210.5,231.8 211.6,231.5 212.7,231.1 213.9,230.6 215.0,230.2 216.1,229.6 217.2,229.0 218.0,228.0 218.9,226.9 219.7,225.9 220.5,224.8 221.3,223.8 222.2,222.8 223.0,221.8 223.9,220.8 224.7,219.9 225.5,219.0 226.3,218.1 227.1,217.3 227.9,216.5 228.7,215.8 229.6,215.0 230.4,214.2 231.2,213.5 232.0,212.7 232.8,211.9 233.7,211.0 234.5,210.1 235.3,209.2 236.1,208.2 236.9,207.2 237.7,206.2 238.5,205.1 239.2,204.0 240.0,202.8 240.8,201.7 241.5,200.5 242.2,199.4 242.9,198.2 243.6,197.1 244.3,196.0 245.1,195.0 245.8,193.9 246.5,193.0 247.2,192.0 248.0,191.1 248.7,190.2 249.5,189.3 250.3,188.4 251.0,187.5 251.9,186.8 252.8,186.0 253.7,185.2 254.6,184.3 255.5,183.5 256.3,182.6 257.2,181.7 258.1,180.8 258.8,179.8 259.5,178.7 260.2,177.6 260.9,176.6 261.6,175.5 262.3,174.5 263.0,173.4 263.7,172.4 264.4,171.4 265.2,170.7 266.1,170.2 267.0,169.7" fill="none" stroke="#000" stroke-width="0.7"/><polyline points="77.6,176.7 78.3,177.7 78.9,178.6 79.5,179.7 80.1,180.8 80.7,181.9 81.2,183.0 81.8,184.1 82.4,185.2 83.0,186.2 83.6,187.3 84.2,188.3 84.8,189.4 85.4,190.4 86.0,191.4 86.7,192.4 87.3,193.4 88.0,194.4 88.7,195.3 89.3,196.3 90.0,197.3 90.7,198.2 91.4,199.1 92.1,200.1 92.8,201.0 93.6,202.0 94.3,202.9 94.9,203.9 95.7,204.9 96.5,205.8 97.3,206.7 98.1,207.6 98.9,208.6 99.7,209.5 100.5,210.5 101.4,211.4 102.3,212.3 103.2,213.1 104.1,214.0 105.0,214.8 105.9,215.7 106.8,216.6 107.8,217.4 108.7,218.2 109.7,219.0 110.7,219.7 111.7,220.5 112.7,221.2 113.7,221.9 114.7,222.6 115.8,223.3 116.8,224.0 117.7,224.7 118.7,225.4 119.7,226.2 120.7,226.9 121.7,227.6 122.7,228.4 123.7,229.1 124.7,229.8 125.7,230.5 126.8,231.2 127.8,231.9 128.8,232.6 129.9,233.3 130.9,234.0 132.0,234.6 133.2,235.0 134.3,235.4 135.5,235.8 136.7,236.2 137.9,236.5 139.1,236.8 140.3,236.9 141.6,236.9 142.9,237.0 144.1,237.0 145.4,236.9 146.7,236.8 148.0,236.6 149.3,236.4 150.6,236.2 151.9,235.9 153.2,235.7 154.4,235.4 155.7,235.2 157.0,235.0 158.3,234.8 159.5,234.7 160.8,234.5 162.0,234.4 163.2,234.3 164.5,234.2 165.7,234.2 166.9,234.2 168.1,234.2 169.3,234.3 170.5,234.4 171.7,234.5 172.9,234.7 174.1,234.8 175.3,235.0 176.5,235.1 177.7,235.2 178.9,235.3 180.1,235.3 181.3,235.3 182.5,235.3 183.8,235.3 185.0,235.2 186.2,235.1 187.4,235.0 188.7,234.8 189.9,234.7 191.1,234.5 192.4,234.3 193.6,234.0 194.8,233.8 196.0,233.6 197.3,233.3 198.5,233.1 199.7,232.9 200.9,232.7 202.1,232.6 203.3,232.4 204.6,232.3 205.8,232.2 207.0,232.1 208.2,231.9 209.3,231.5 210.4,231.1 211.6,230.7 212.7,230.2 213.8,229.8 214.9,229.4 216.1,228.9 217.2,228.3 218.0,227.4 218.8,226.5 219.7,225.6 220.5,224.6 221.3,223.6 222.2,222.6 223.0,221.6 223.9,220.6 224.7,219.6 225.5,218.5 226.3,217.4 227.1,216.4 227.9,215.3 228.6,214.3 229.4,213.3 230.2,212.3 231.0,211.3 231.8,210.4 232.6,209.5 233.4,208.6 234.2,207.8 235.0,206.9 235.8,206.1 236.6,205.3 237.5,204.5 238.3,203.8 239.1,203.0 239.9,202.2 240.7,201.4 241.5,200.6 242.3,199.8 243.1,198.9 243.8,198.0 244.6,197.1 245.3,196.2 246.0,195.3 246.8,194.3 247.5,193.3 248.2,192.3 249.0,191.3 249.7,190.2 250.4,189.2 251.2,188.1 252.0,187.2 252.9,186.3 253.8,185.3 254.6,184.4 255.5,183.4 256.3,182.5 257.2,181.6 258.0,180.7 258.8,179.7 259.5,178.6 260.2,177.6 260.9,176.6 261.6,175.6 262.3,174.6 263.0,173.6 263.7,172.6 264.4,171.6 265.2,170.9 266.1,170.2 267.0,169.7" fill="none" stroke="#000" stroke-width="0.7" stroke-dasharray="9 2 4 2"/><polyline points="77.6,176.7 78.4,177.5 79.2,178.3 79.8,179.3 80.4,180.4 80.9,181.5 81.5,182.6 82.1,183.7 82.7,184.7 83.3,185.8 83.9,186.8 84.6,187.8 85.2,188.8 85.9,189.8 86.5,190.8 87.2,191.7 87.8,192.7 88.4,193.7 89.1,194.8 89.7,195.8 90.3,196.9 90.9,197.9 91.5,199.0 92.1,200.1 92.7,201.2 93.3,202.4 93.8,203.6 94.4,204.7 95.0,205.8 95.8,206.8 96.6,207.8 97.4,208.8 98.2,209.7 99.1,210.6 100.0,211.5 100.9,212.3 101.9,213.0 102.9,213.6 103.9,214.3 105.0,214.9 106.0,215.5 107.1,216.1 108.1,216.7 109.2,217.2 110.3,217.7 111.4,218.2 112.4,218.7 113.5,219.3 114.5,219.9 115.6,220.5 116.6,221.0 117.7,221.7 118.7,222.3 119.7,223.0 120.7,223.7 121.7,224.4 122.6,225.2 123.6,226.0 124.6,226.7 125.6,227.5 126.6,228.2 127.6,229.0 128.6,229.7 129.6,230.4 130.7,231.1 131.7,231.7 132.8,232.2 134.0,232.6 135.1,233.0 136.3,233.4 137.4,233.8 138.6,234.1 139.8,234.5 141.0,234.7 142.2,234.9 143.4,235.2 144.6,235.4 145.8,235.6 147.0,235.7 148.2,235.8 149.4,235.9 150.6,235.9 151.9,235.9 153.1,235.9 154.4,235.8 155.6,235.6 156.9,235.5 158.2,235.2 159.5,235.0 160.7,234.7 162.0,234.3 163.3,233.9 164.6,233.5 165.9,233.1 167.1,232.7 168.4,232.3 169.6,232.0 170.9,231.8 172.1,231.6 173.3,231.5 174.5,231.5 175.7,231.5 176.9,231.6 178.1,231.8 179.2,232.0 180.4,232.3 181.6,232.6 182.8,233.0 183.9,233.3 185.1,233.6 186.3,233.9 187.5,234.1 188.7,234.3 189.9,234.5 191.1,234.5 192.4,234.5 193.6,234.4 194.8,234.2 196.0,233.9 197.3,233.5 198.5,233.1 199.7,232.7 200.9,232.3 202.1,231.9 203.4,231.4 204.6,231.0 205.8,230.7 207.0,230.4 208.2,230.0 209.3,229.4 210.4,228.9 211.5,228.4 212.6,228.0 213.7,227.7 214.8,227.4 216.0,227.1 217.1,226.7 217.9,226.1 218.8,225.4 219.6,224.7 220.5,224.0 221.3,223.3 222.2,222.5 223.0,221.6 223.9,220.7 224.7,219.7 225.5,218.7 226.3,217.6 227.1,216.4 227.8,215.2 228.6,214.0 229.4,212.8 230.2,211.6 230.9,210.4 231.7,209.2 232.4,208.1 233.2,207.0 234.0,206.0 234.8,205.0 235.6,204.1 236.4,203.2 237.2,202.4 238.0,201.7 238.8,201.0 239.6,200.3 240.5,199.7 241.3,199.0 242.0,198.3 242.8,197.7 243.6,197.0 244.4,196.2 245.2,195.5 245.9,194.7 246.7,193.8 247.4,193.0 248.2,192.0 248.9,191.0 249.6,190.0 250.4,188.9 251.1,187.8 251.9,186.8 252.8,185.8 253.6,184.7 254.4,183.7 255.2,182.6 256.1,181.5 256.9,180.5 257.7,179.5 258.4,178.3 259.1,177.3 259.8,176.2 260.5,175.2 261.2,174.2 261.9,173.2 262.7,172.2 263.4,171.3 264.1,170.3 265.0,169.9 266.0,169.8 267.0,169.7" fill="none" stroke="#000" stroke-width="0.7"/><polyline points="77.6,176.7 78.5,177.4 79.3,178.1 80.0,179.0 80.6,180.1 81.1,181.2 81.7,182.3 82.3,183.3 83.0,184.4 83.6,185.3 84.3,186.3 85.0,187.2 85.7,188.2 86.4,189.1 87.0,190.0 87.7,191.0 88.4,191.9 89.0,193.0 89.6,194.0 90.2,195.1 90.7,196.3 91.2,197.4 91.8,198.6 92.3,199.8 92.8,201.0 93.4,202.2 93.9,203.4 94.5,204.6 95.2,205.6 96.0,206.5 96.9,207.3 97.9,208.0 98.8,208.7 99.8,209.4 100.7,210.1 101.8,210.6 102.9,211.1 104.0,211.6 105.0,212.1 106.1,212.7 107.1,213.3 108.0,214.0 109.0,214.8 109.9,215.6 110.8,216.5 111.7,217.5 112.5,218.4 113.4,219.5 114.3,220.5 115.2,221.4 116.1,222.3 117.1,223.2 118.0,224.0 119.0,224.7 120.1,225.3 121.1,225.8 122.3,226.2 123.4,226.5 124.6,226.7 125.8,226.8 127.1,226.9 128.3,227.0 129.5,227.1 130.7,227.4 131.9,227.6 133.0,227.9 134.1,228.3 135.2,228.9 136.3,229.5 137.3,230.3 138.3,231.2 139.3,232.0 140.3,232.8 141.3,233.5 142.4,234.1 143.5,234.6 144.7,235.0 145.9,235.1 147.1,235.1 148.4,234.9 149.7,234.5 151.1,234.0 152.4,233.4 153.8,232.8 155.1,232.2 156.5,231.6 157.8,231.1 159.1,230.8 160.3,230.6 161.5,230.5 162.7,230.5 163.9,230.7 165.0,231.0 166.1,231.5 167.2,232.0 168.4,232.5 169.5,233.1 170.6,233.6 171.8,234.0 172.9,234.4 174.1,234.5 175.3,234.6 176.6,234.5 177.8,234.2 179.1,233.8 180.3,233.3 181.6,232.7 182.8,232.1 184.1,231.5 185.3,230.9 186.6,230.4 187.8,230.0 189.0,229.8 190.2,229.6 191.4,229.6 192.6,229.7 193.8,229.8 195.0,230.0 196.2,230.3 197.4,230.6 198.5,230.9 199.7,231.1 200.9,231.2 202.1,231.3 203.4,231.3 204.6,231.2 205.8,231.0 207.0,230.8 208.2,230.3 209.3,229.6 210.4,228.8 211.5,228.0 212.6,227.3 213.7,226.5 214.8,225.8 215.9,225.2 216.9,224.6 217.8,223.7 218.6,222.9 219.5,222.2 220.4,221.5 221.2,220.9 222.1,220.3 222.9,219.6 223.8,218.9 224.7,218.2 225.4,217.4 226.2,216.5 227.0,215.6 227.8,214.6 228.6,213.6 229.4,212.5 230.1,211.4 230.9,210.3 231.7,209.2 232.4,208.2 233.2,207.1 234.0,206.1 234.8,205.2 235.6,204.3 236.4,203.4 237.2,202.6 238.0,201.8 238.8,201.1 239.6,200.3 240.4,199.5 241.2,198.7 242.0,197.9 242.7,197.0 243.4,196.0 244.2,195.1 244.9,194.0 245.6,193.0 246.3,191.9 247.0,190.7 247.7,189.6 248.4,188.4 249.0,187.3 249.8,186.3 250.6,185.3 251.4,184.4 252.3,183.5 253.1,182.7 254.0,181.9 254.9,181.1 255.8,180.4 256.7,179.7 257.5,179.0 258.3,178.3 259.1,177.4 259.9,176.6 260.6,175.7 261.4,174.8 262.1,173.8 262.8,172.8 263.5,171.7 264.2,170.6 265.1,170.1 266.0,169.8 267.0,169.7" fill="none" stroke="#000" stroke-width="0.7" stroke-dasharray="6 2 8 3"/><polyline points="77.6,176.7 78.6,177.3 79.5,177.8 80.3,178.6 80.9,179.7 81.5,180.7 82.2,181.7 82.8,182.7 83.4,183.7 84.1,184.7 84.7,185.7 85.3,186.7 86.0,187.7 86.6,188.7 87.3,189.7 87.9,190.7 88.5,191.7 89.2,192.7 89.8,193.7 90.4,194.8 91.0,195.9 91.6,196.9 92.2,198.0 92.8,199.1 93.5,200.1 94.1,201.2 94.7,202.4 95.3,203.5 95.9,204.5 96.7,205.5 97.5,206.5 98.2,207.5 99.0,208.4 99.8,209.3 100.7,210.2 101.6,211.0 102.6,211.7 103.6,212.4 104.6,213.0 105.6,213.7 106.6,214.3 107.6,214.9 108.6,215.5 109.7,216.1 110.7,216.7 111.8,217.2 112.8,217.8 113.9,218.3 114.9,218.9 115.9,219.5 117.0,220.0 118.1,220.6 119.1,221.2 120.2,221.7 121.2,222.3 122.2,222.9 123.3,223.5 124.3,224.1 125.4,224.7 126.4,225.2 127.5,225.7 128.6,226.3 129.6,226.8 130.7,227.3 131.9,227.6 133.1,227.8 134.2,228.1 135.4,228.3 136.6,228.5 137.8,228.7 139.0,228.9 140.2,229.0 141.4,229.1 142.5,229.3 143.7,229.4 144.9,229.7 146.0,229.9 147.2,230.1 148.3,230.4 149.5,230.7 150.6,230.9 151.7,231.3 152.9,231.6 154.0,231.9 155.1,232.3 156.3,232.6 157.4,232.9 158.6,233.2 159.7,233.5 160.9,233.7 162.1,233.8 163.3,233.8 164.5,233.8 165.8,233.7 167.0,233.6 168.2,233.4 169.5,233.2 170.7,232.9 172.0,232.6 173.2,232.3 174.4,232.0 175.7,231.7 176.9,231.3 178.2,231.0 179.4,230.7 180.6,230.4 181.8,230.2 183.0,230.0 184.2,229.8 185.5,229.6 186.7,229.5 187.8,229.4 189.0,229.4 190.2,229.4 191.4,229.4 192.6,229.3 193.8,229.3 195.0,229.3 196.2,229.2 197.4,229.2 198.6,229.1 199.8,229.0 201.0,228.9 202.2,228.8 203.4,228.6 204.6,228.4 205.8,228.3 207.0,228.1 208.1,227.8 209.2,227.3 210.3,226.7 211.4,226.2 212.5,225.7 213.6,225.2 214.7,224.7 215.8,224.3 216.9,223.7 217.7,223.0 218.6,222.2 219.5,221.5 220.3,220.7 221.2,220.0 222.0,219.3 222.9,218.6 223.8,217.8 224.6,217.1 225.4,216.2 226.2,215.3 227.0,214.5 227.7,213.5 228.5,212.6 229.3,211.6 230.1,210.7 230.8,209.7 231.6,208.6 232.4,207.6 233.2,206.6 233.9,205.6 234.7,204.6 235.5,203.6 236.3,202.6 237.1,201.6 237.8,200.6 238.6,199.7 239.4,198.8 240.2,197.9 240.9,197.0 241.6,196.1 242.4,195.3 243.1,194.4 243.9,193.6 244.6,192.8 245.4,191.9 246.1,191.1 246.9,190.3 247.6,189.5 248.4,188.6 249.1,187.7 249.9,186.9 250.7,186.0 251.6,185.2 252.4,184.3 253.3,183.4 254.2,182.5 255.0,181.6 255.8,180.7 256.7,179.8 257.5,178.8 258.2,177.7 258.9,176.7 259.6,175.6 260.3,174.6 261.0,173.6 261.8,172.5 262.5,171.5 263.2,170.5 264.0,169.6 264.9,169.4 265.9,169.5 267.0,169.7" fill="none" stroke="#000" stroke-width="0.7"/><polyline points="77.6,176.7 78.7,177.1 79.8,177.5 80.6,178.2 81.3,179.2 81.9,180.2 82.6,181.2 83.2,182.2 83.8,183.2 84.5,184.2 85.1,185.2 85.7,186.2 86.3,187.2 86.9,188.3 87.5,189.4 88.1,190.4 88.7,191.5 89.3,192.6 89.8,193.6 90.4,194.7 91.0,195.8 91.6,196.8 92.3,197.8 93.0,198.8 93.7,199.8 94.4,200.7 95.2,201.7 95.9,202.6 96.7,203.5 97.5,204.3 98.3,205.2 99.1,206.0 99.9,206.9 100.7,207.8 101.5,208.7 102.4,209.4 103.4,210.1 104.3,210.9 105.3,211.6 106.2,212.4 107.2,213.1 108.1,213.9 109.1,214.6 110.0,215.3 111.0,216.0 112.0,216.7 113.0,217.4 114.0,218.0 115.0,218.6 116.0,219.2 117.1,219.8 118.2,220.3 119.3,220.8 120.3,221.2 121.4,221.7 122.5,222.2 123.6,222.7 124.6,223.2 125.7,223.7 126.8,224.2 127.9,224.8 128.9,225.3 130.0,225.9 131.0,226.6 132.1,227.0 133.2,227.4 134.3,227.8 135.4,228.2 136.6,228.6 137.7,229.0 138.8,229.3 140.0,229.5 141.2,229.6 142.4,229.7 143.6,229.8 144.8,229.8 146.0,229.9 147.3,229.8 148.5,229.8 149.7,229.7 150.9,229.7 152.1,229.6 153.3,229.6 154.5,229.7 155.7,229.7 156.9,229.8 158.0,229.9 159.2,230.1 160.4,230.2 161.5,230.4 162.7,230.5 163.9,230.6 165.1,230.6 166.3,230.6 167.5,230.6 168.7,230.6 169.9,230.5 171.1,230.4 172.3,230.2 173.5,230.0 174.7,229.8 175.9,229.6 177.2,229.3 178.4,229.1 179.6,228.9 180.8,228.7 182.0,228.5 183.2,228.4 184.4,228.3 185.6,228.3 186.7,228.3 187.9,228.3 189.1,228.3 190.3,228.4 191.5,228.4 192.7,228.5 193.9,228.5 195.0,228.5 196.2,228.4 197.4,228.3 198.6,228.2 199.8,228.1 201.0,228.0 202.2,227.8 203.4,227.6 204.6,227.4 205.8,227.2 207.0,227.0 208.1,226.8 209.2,226.2 210.3,225.7 211.4,225.2 212.5,224.8 213.6,224.4 214.7,224.0 215.8,223.6 216.8,223.2 217.7,222.5 218.6,221.8 219.4,221.1 220.3,220.3 221.2,219.6 222.0,218.8 222.9,218.0 223.7,217.2 224.6,216.4 225.4,215.4 226.1,214.4 226.9,213.4 227.7,212.4 228.4,211.3 229.2,210.3 230.0,209.3 230.7,208.3 231.5,207.3 232.2,206.4 233.0,205.4 233.8,204.5 234.6,203.7 235.4,202.8 236.2,202.0 237.0,201.1 237.8,200.3 238.6,199.5 239.4,198.6 240.1,197.8 240.9,196.8 241.6,195.9 242.3,194.9 243.0,193.9 243.8,192.9 244.5,191.9 245.2,190.9 245.9,189.9 246.6,188.8 247.3,187.8 248.0,186.7 248.7,185.7 249.5,184.8 250.3,183.9 251.1,183.1 252.0,182.3 252.8,181.5 253.7,180.7 254.6,179.9 255.4,179.1 256.3,178.4 257.1,177.6 257.9,176.8 258.7,175.9 259.4,175.0 260.2,174.1 261.0,173.2 261.7,172.3 262.5,171.3 263.2,170.4 263.9,169.4 264.9,169.3 265.9,169.5 267.0,169.7" fill="none" stroke="#000" stroke-width="0.8"/></g><polyline points="82.5,89.5 83.6,85.0 91.5,73.8 100.5,63.7 111.7,52.5 123.0,41.2 128.6,35.6 131.9,34.6 142.1,33.5 155.4,32.0 160.3,32.9 172.4,36.5 184.5,40.7 196.6,44.4 210.0,48.5 227.3,56.0 244.6,64.0 251.5,68.3 260.1,76.1 267.0,82.2 269.7,86.5" fill="none" stroke="#000" stroke-width="0.8"/><polyline points="77.6,176.7 83.2,188.0 88.9,199.2 93.3,207.1 100.0,213.2 107.8,219.5 115.6,224.9 123.4,231.2 131.2,236.0 139.0,238.0 146.8,238.8 161.2,239.2 176.7,238.5 192.3,237.0 207.9,234.6 217.2,230.4 224.7,222.0 234.4,210.8 241.6,202.3 251.3,189.0 258.5,181.8 265.8,170.9 267.0,169.7" fill="none" stroke="#000" stroke-width="0.8"/><g stroke="#8c8c8c" stroke-width="1" fill="none"><path d="M58.5 22V249.5H285.5"/><path d="M58.5 30.6h2.3"/><path d="M58.5 83.4h2.3"/><path d="M58.5 136.4h2.3"/><path d="M58.5 189.3h2.3"/><path d="M58.5 242.3h2.3"/><path d="M66.7 249.5v-2.3"/><path d="M119.6 249.5v-2.3"/><path d="M172.7 249.5v-2.3"/><path d="M225.7 249.5v-2.3"/><path d="M278.3 249.5v-2.3"/></g><g font-family="Liberation Sans" font-size="14" fill="#262626" text-anchor="end"><text x="54.3" y="35.5">400</text><text x="54.3" y="88.4">200</text><text x="54.3" y="141.4">0</text><text x="54.3" y="194.3">-200</text><text x="54.3" y="247.3">-400</text></g><g font-family="Liberation Sans" font-size="14" fill="#262626" text-anchor="middle"><text x="66.7" y="267">-400</text><text x="119.6" y="267">-200</text><text x="172.7" y="267">0</text><text x="225.7" y="267">200</text><text x="278.3" y="267">400</text><text x="171.5" y="284.6" font-size="15">Y [m]</text><text transform="translate(21.1 136.2) rotate(-90)" x="0" y="0" font-size="15">Z [m]</text></g><path d="M105.2 32.6H332.5" stroke="#218a3a" stroke-width="1.7" stroke-dasharray="3.1 2.87" stroke-dashoffset="1.5"/><path d="M105.2 238.85H332.5" stroke="#218a3a" stroke-width="1.7" stroke-dasharray="3.1 2.87" stroke-dashoffset="1.5"/><path d="M105.2 42H298.4" stroke="#1e1070" stroke-width="1.7" stroke-dasharray="3.1 2.93" stroke-dashoffset="1.3"/><path d="M105.2 229.6H298.4" stroke="#1e1070" stroke-width="1.7" stroke-dasharray="3.1 2.93" stroke-dashoffset="1.3"/><path d="M292.6 51.9V219.2" stroke="#1e1070" stroke-width="1.8"/><path d="M292.6 41.9L298.6 55.9L292.6 53.1L286.6 55.9Z" fill="#1e1070"/><path d="M292.6 229.2L298.6 215.2L292.6 218.0L286.6 215.2Z" fill="#1e1070"/><path d="M321.8 42.8V227.9" stroke="#218a3a" stroke-width="1.8"/><path d="M321.8 32.8L327.8 46.8L321.8 44.0L315.8 46.8Z" fill="#218a3a"/><path d="M321.8 237.9L327.8 223.9L321.8 226.70000000000002L315.8 223.9Z" fill="#218a3a"/><g font-family="Liberation Sans" text-anchor="middle"><text transform="translate(306.6 130.6) rotate(-90)" font-size="14.5" fill="#1e1070">D</text><text transform="translate(335.8 133.1) rotate(-90)" font-size="14.5" fill="#218a3a">D</text><text transform="translate(335.6 125.8) rotate(-90)" font-size="8.5" fill="#218a3a">0</text></g><text x="-1" y="12.9" font-family="Liberation Sans" font-size="18" fill="#000">a</text>
<g stroke="#ffa500" stroke-width="1.1" stroke-dasharray="3.1 1.43" fill="none"><path d="M425.40 250.5V22.5"/><path d="M495.05 250.5V22.5"/><path d="M564.70 250.5V22.5"/><path d="M634.35 250.5V22.5"/><path d="M704.00 250.5V22.5"/><path d="M411.7 33.40H716.9"/><path d="M411.7 80.20H716.9"/><path d="M411.7 127.00H716.9"/><path d="M411.7 173.80H716.9"/><path d="M411.7 220.60H716.9"/></g><path d="M425.4 33.2L704.3 240.3" stroke="#000" stroke-width="1.6"/><circle cx="452.8" cy="52.5" r="4.8" fill="#0000ff"/><circle cx="480.8" cy="73.0" r="4.8" fill="#0000ff"/><circle cx="507.05" cy="93.5" r="4.8" fill="#0000ff"/><circle cx="536.1" cy="116.4" r="4.8" fill="#0000ff"/><circle cx="562.5" cy="135.9" r="4.8" fill="#0000ff"/><circle cx="587.1" cy="153.0" r="4.8" fill="#0000ff"/><circle cx="620.3" cy="177.2" r="4.8" fill="#0000ff"/><circle cx="642.4" cy="194.2" r="4.8" fill="#0000ff"/><circle cx="667.5" cy="212.8" r="4.8" fill="#0000ff"/><circle cx="692.9" cy="231.7" r="4.8" fill="#0000ff"/><rect x="411.9" y="22.5" width="305" height="228" fill="none" stroke="#000" stroke-width="1.1"/><g stroke="#000" stroke-width="1"><path d="M425.40 250.5v3.5"/><path d="M495.05 250.5v3.5"/><path d="M564.70 250.5v3.5"/><path d="M634.35 250.5v3.5"/><path d="M704.00 250.5v3.5"/><path d="M411.9 33.20h-3.5"/><path d="M411.9 80.00h-3.5"/><path d="M411.9 126.80h-3.5"/><path d="M411.9 173.60h-3.5"/><path d="M411.9 220.40h-3.5"/></g><g font-family="Liberation Sans" font-size="12" fill="#000"><text x="425.40" y="266.7" text-anchor="middle" font-size="12.6">0</text><text x="495.05" y="266.7" text-anchor="middle" font-size="12.6">2</text><text x="564.70" y="266.7" text-anchor="middle" font-size="12.6">4</text><text x="634.35" y="266.7" text-anchor="middle" font-size="12.6">6</text><text x="704.00" y="266.7" text-anchor="middle" font-size="12.6">8</text><text x="405.6" y="38.10" text-anchor="end" font-size="12.6">0</text><text x="379.7" y="84.90" font-size="12.6" textLength="25.7" lengthAdjust="spacingAndGlyphs">−20</text><text x="379.7" y="131.70" font-size="12.6" textLength="25.7" lengthAdjust="spacingAndGlyphs">−40</text><text x="379.7" y="178.50" font-size="12.6" textLength="25.7" lengthAdjust="spacingAndGlyphs">−60</text><text x="379.7" y="225.30" font-size="12.6" textLength="25.7" lengthAdjust="spacingAndGlyphs">−80</text><text x="452.9" y="281.9" textLength="224.3" lengthAdjust="spacingAndGlyphs">Reshaping along the short axis [m]</text><text transform="translate(372.5 214.4) rotate(-90)" textLength="157.7" lengthAdjust="spacingAndGlyphs">Orbital period change [s]</text></g><rect x="552.4" y="29.2" width="158.6" height="41.1" rx="2.5" fill="#fff" stroke="#d0d0d0" stroke-width="1"/><path d="M556.9 38.8H584.1" stroke="#000" stroke-width="1.6"/><circle cx="570.2" cy="58.4" r="4.8" fill="#0000ff"/><g font-family="Liberation Sans" font-size="12" fill="#000"><text x="594" y="44" textLength="91" lengthAdjust="spacingAndGlyphs">Linear approx.</text><text x="594" y="62.6" textLength="111.6" lengthAdjust="spacingAndGlyphs">Numerical results</text></g><text x="355.5" y="12.8" font-family="Liberation Sans" font-size="18" fill="#000">b</text>
</svg>
</body></html>
